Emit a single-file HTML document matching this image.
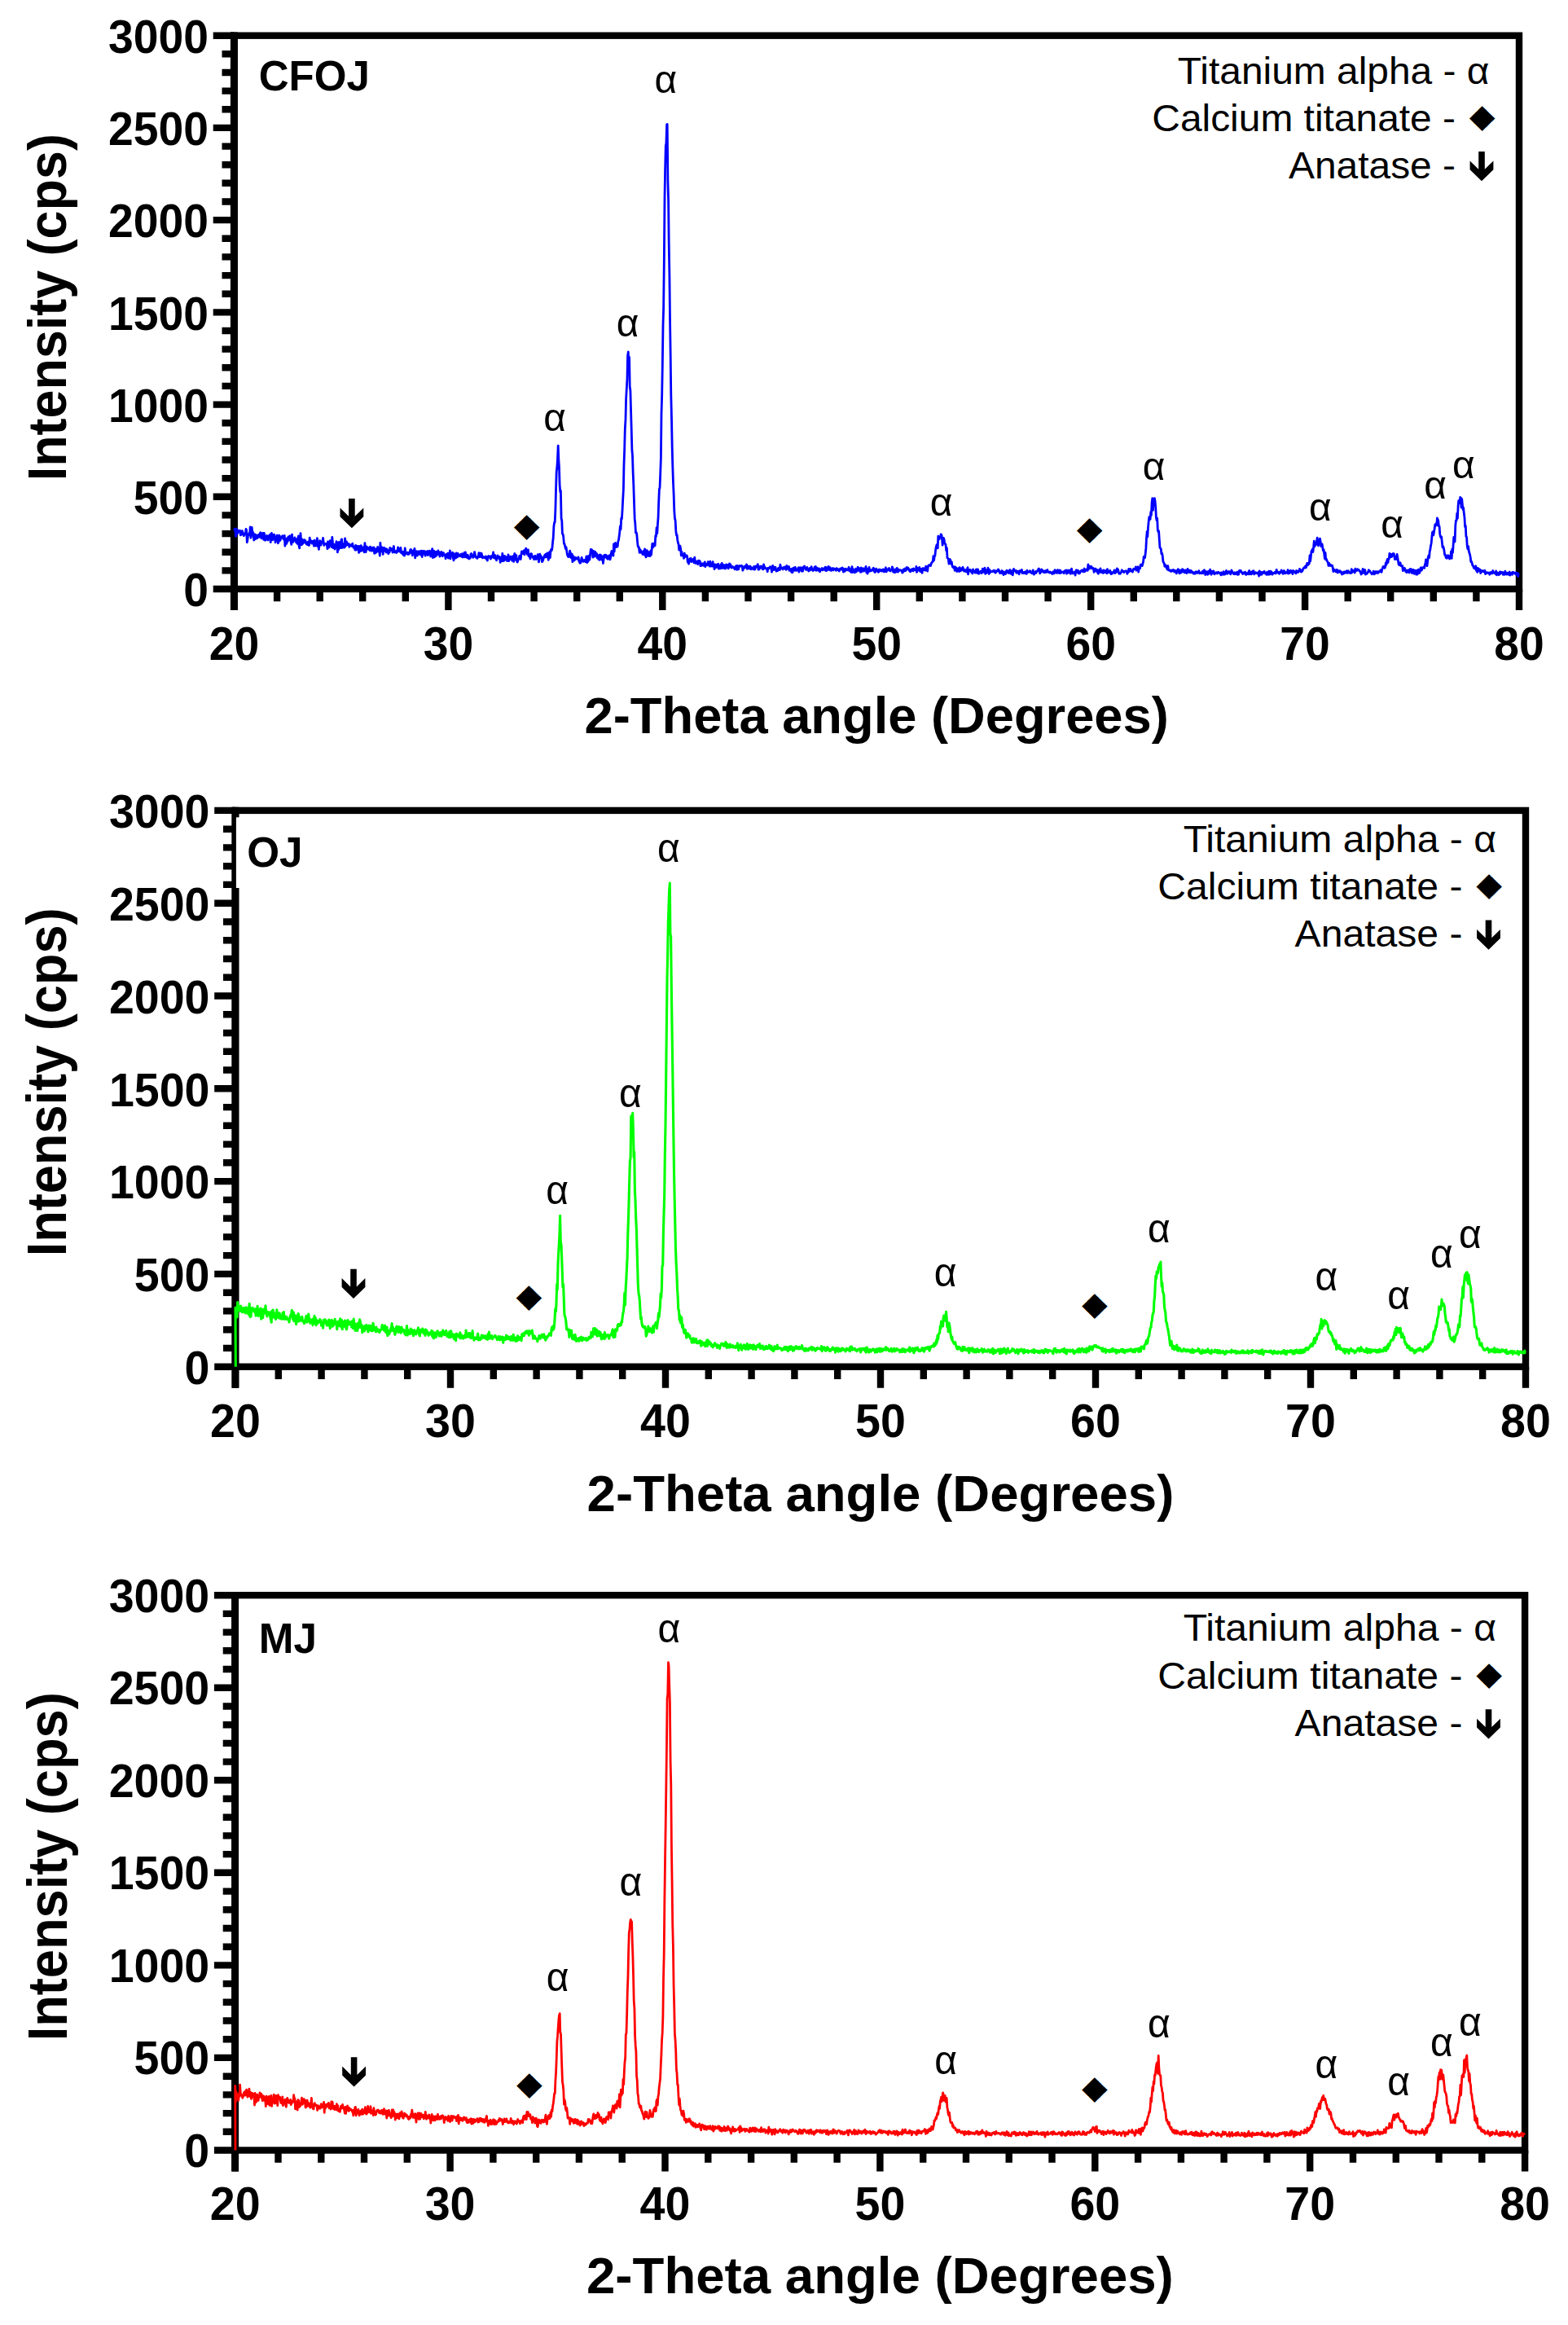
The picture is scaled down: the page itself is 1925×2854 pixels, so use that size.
<!DOCTYPE html>
<html lang="en"><head><meta charset="utf-8"><title>XRD patterns</title>
<style>html,body{margin:0;padding:0;background:#fff}svg{display:block}text{font-family:"Liberation Sans", Arial, Helvetica, sans-serif;fill:#000}.tk,.ti,.ty,.nm{font-weight:700}.al{text-anchor:middle}.dm{font-family:"DejaVu Sans",sans-serif}</style></head><body>
<svg width="1925" height="2854" viewBox="0 0 1925 2854">
<rect width="1925" height="2854" fill="#fff"/>
<g>
<path d="M261.7,723 H287.5 M272.5,700.4 H287.5 M272.5,677.7 H287.5 M272.5,655.1 H287.5 M272.5,632.4 H287.5 M261.7,609.8 H287.5 M272.5,587.1 H287.5 M272.5,564.5 H287.5 M272.5,541.9 H287.5 M272.5,519.2 H287.5 M261.7,496.6 H287.5 M272.5,473.9 H287.5 M272.5,451.3 H287.5 M272.5,428.6 H287.5 M272.5,406 H287.5 M261.7,383.4 H287.5 M272.5,360.7 H287.5 M272.5,338.1 H287.5 M272.5,315.4 H287.5 M272.5,292.8 H287.5 M261.7,270.1 H287.5 M272.5,247.5 H287.5 M272.5,224.8 H287.5 M272.5,202.2 H287.5 M272.5,179.6 H287.5 M261.7,156.9 H287.5 M272.5,134.3 H287.5 M272.5,111.6 H287.5 M272.5,89 H287.5 M272.5,66.3 H287.5 M261.7,43.7 H287.5 M287.5,723 V749 M340.1,723 V738.2 M392.7,723 V738.2 M445.2,723 V738.2 M497.8,723 V738.2 M550.4,723 V749 M603,723 V738.2 M655.6,723 V738.2 M708.2,723 V738.2 M760.8,723 V738.2 M813.3,723 V749 M865.9,723 V738.2 M918.5,723 V738.2 M971.1,723 V738.2 M1023.7,723 V738.2 M1076.2,723 V749 M1128.8,723 V738.2 M1181.4,723 V738.2 M1234,723 V738.2 M1286.6,723 V738.2 M1339.2,723 V749 M1391.8,723 V738.2 M1444.3,723 V738.2 M1496.9,723 V738.2 M1549.5,723 V738.2 M1602.1,723 V749 M1654.7,723 V738.2 M1707.2,723 V738.2 M1759.8,723 V738.2 M1812.4,723 V738.2 M1865,723 V749" stroke="#000" stroke-width="8.4" fill="none"/>
<rect x="287.5" y="43.7" width="1577.5" height="679.3" fill="none" stroke="#000" stroke-width="8.4"/>
<path d="M287.4,39.5 V749" stroke="#000" stroke-width="9" fill="none"/>
<polyline points="287.5,651 288.2,649.1 288.8,651.3 289.5,658.4 290.1,649.1 290.8,651.1 291.4,655.4 292.1,650.8 292.8,651.8 293.4,652.2 294.1,653.4 294.7,651.4 295.4,656.9 296,654.6 296.7,656 297.4,651.6 298,654 298.7,655.5 299.3,657.7 300,655.6 300.6,654.5 301.3,655.8 302,649.4 302.6,650.7 303.3,665.8 303.9,662.9 304.6,655.9 305.2,657 305.9,654.5 306.6,654.6 307.2,646.8 307.9,660.3 308.5,657.3 309.2,647.4 309.8,653.3 310.5,653.3 311.2,658.3 311.8,663 312.5,655.7 313.1,656 313.8,661.6 314.4,659.4 315.1,657 315.8,660.7 316.4,657.3 317.1,656.6 317.7,657 318.4,659.3 319,654.9 319.7,653.8 320.4,656.2 321,660.9 321.7,654.7 322.3,659.8 323,654.4 323.7,662.3 324.3,654.4 325,658.2 325.6,663.3 326.3,659.6 326.9,658.2 327.6,657.5 328.3,662.5 328.9,663.1 329.6,658 330.2,660.8 330.9,658.1 331.5,656.1 332.2,665.7 332.9,658.3 333.5,654.5 334.2,660.6 334.8,662.7 335.5,656.7 336.1,658.7 336.8,656.3 337.5,661.3 338.1,665.8 338.8,660.5 339.4,661.9 340.1,657.2 340.7,659.6 341.4,666.8 342.1,665.2 342.7,657.2 343.4,658.1 344,663.3 344.7,660.9 345.3,659.3 346,659.3 346.7,657.8 347.3,660.2 348,661.7 348.6,662.4 349.3,657.4 349.9,670.2 350.6,662.2 351.3,661.6 351.9,667.3 352.6,660.7 353.2,664.5 353.9,658.8 354.5,662.7 355.2,659.7 355.9,657.7 356.5,661 357.2,665.8 357.8,668.3 358.5,656.1 359.1,663.2 359.8,665.4 360.5,662.4 361.1,663.7 361.8,659.9 362.4,663.1 363.1,663.2 363.7,666 364.4,661.7 365.1,667.4 365.7,661.1 366.4,658 367,669.4 367.7,673 368.3,661.6 369,654.6 369.7,667.8 370.3,668.8 371,662.1 371.6,667.4 372.3,666.3 372.9,665.8 373.6,662.6 374.3,666.1 374.9,663.7 375.6,665.5 376.2,668 376.9,666.1 377.5,668.5 378.2,665.1 378.9,669.3 379.5,669.3 380.2,660.1 380.8,665.6 381.5,665.7 382.1,663.8 382.8,667.2 383.5,666.6 384.1,664.3 384.8,664.9 385.4,670.2 386.1,663.1 386.8,668.3 387.4,670 388.1,669.5 388.7,667.8 389.4,660.6 390,670.7 390.7,666 391.4,674.3 392,666.7 392.7,663.6 393.3,667.7 394,669.2 394.6,666.2 395.3,664.6 396,664.8 396.6,660.3 397.3,666.6 397.9,669.5 398.6,667.9 399.2,667.8 399.9,667.2 400.6,667.8 401.2,667.2 401.9,673.7 402.5,665 403.2,670 403.8,672.1 404.5,665.9 405.2,663.6 405.8,666.5 406.5,667.8 407.1,671.6 407.8,659.4 408.4,665.5 409.1,672.5 409.8,671.3 410.4,668.4 411.1,674.1 411.7,668.2 412.4,670.5 413,664.7 413.7,665.7 414.4,677.9 415,668.9 415.7,674.6 416.3,665.3 417,668.5 417.6,667.2 418.3,672.7 419,662.7 419.6,661.9 420.3,672.4 420.9,667.3 421.6,670.7 422.2,668.2 422.9,672.2 423.6,660.9 424.2,670.6 424.9,667.9 425.5,664.9 426.2,668.8 426.8,667.4 427.5,668.7 428.2,667.4 428.8,671.4 429.5,669.2 430.1,668.9 430.8,669.8 431.4,668.8 432.1,670.4 432.8,667.2 433.4,671.2 434.1,670.8 434.7,672.8 435.4,672.6 436,675.2 436.7,669.4 437.4,675.1 438,673.9 438.7,670.3 439.3,670.3 440,673 440.6,678.4 441.3,670.5 442,671.1 442.6,676.7 443.3,669.6 443.9,674.5 444.6,675.9 445.2,672 445.9,673 446.6,671.8 447.2,677.8 447.9,666.7 448.5,674.6 449.2,677.7 449.9,670.8 450.5,674 451.2,671.9 451.8,674.1 452.5,673.3 453.1,672.4 453.8,675.6 454.5,671.1 455.1,674.9 455.8,676.2 456.4,673.2 457.1,672.1 457.7,674.3 458.4,676.4 459.1,671.8 459.7,679.4 460.4,677.1 461,673.8 461.7,678.3 462.3,674 463,674.3 463.7,671.3 464.3,677.1 465,676.3 465.6,673.3 466.3,682.1 466.9,666.3 467.6,676.7 468.3,676.9 468.9,672 469.6,674.8 470.2,680.3 470.9,672.9 471.5,672.2 472.2,676.4 472.9,675.9 473.5,673.6 474.2,678 474.8,673.8 475.5,674.6 476.1,677.4 476.8,679.7 477.5,676.1 478.1,678.2 478.8,672.5 479.4,675.2 480.1,673.3 480.7,675.3 481.4,675 482.1,678.2 482.7,673.9 483.4,670.5 484,677 484.7,677.9 485.3,676.6 486,677.7 486.7,678.4 487.3,675.9 488,677.2 488.6,672 489.3,676.5 489.9,675.5 490.6,673.7 491.3,677.5 491.9,672.4 492.6,678.7 493.2,679.2 493.9,678 494.5,677.3 495.2,681.2 495.9,677.1 496.5,682.1 497.2,673 497.8,677.4 498.5,679.2 499.1,680 499.8,678.5 500.5,678.1 501.1,680.6 501.8,680.2 502.4,678.1 503.1,679.2 503.7,674.9 504.4,674.4 505.1,677.7 505.7,676.4 506.4,681.8 507,676.1 507.7,678.1 508.3,676.6 509,673.4 509.7,684.9 510.3,677.4 511,681.5 511.6,676.6 512.3,682.2 513,679.9 513.6,677.9 514.3,676.7 514.9,678.3 515.6,680.9 516.2,680.3 516.9,676.2 517.6,678.8 518.2,683.7 518.9,676.4 519.5,677.7 520.2,676.4 520.8,680 521.5,676.7 522.2,682.2 522.8,677.5 523.5,680.6 524.1,677.3 524.8,676.4 525.4,681.5 526.1,679.6 526.8,679.4 527.4,676.1 528.1,677.5 528.7,683.1 529.4,678.4 530,677.6 530.7,673.7 531.4,684.6 532,681.4 532.7,676.1 533.3,683.8 534,683.4 534.6,678.6 535.3,677.2 536,682 536.6,678.7 537.3,679.9 537.9,676 538.6,680.4 539.2,677.6 539.9,683 540.6,681 541.2,680.8 541.9,677.4 542.5,679 543.2,682.8 543.8,678.8 544.5,678.6 545.2,681.1 545.8,681.6 546.5,681.5 547.1,685.7 547.8,680.5 548.4,680.4 549.1,683.5 549.8,679.1 550.4,685 551.1,682.8 551.7,682.6 552.4,675.8 553,685.8 553.7,679.9 554.4,678.9 555,680.5 555.7,678.3 556.3,684.3 557,687.9 557.6,679.6 558.3,685 559,682.7 559.6,685 560.3,679 560.9,679.5 561.6,683.9 562.2,679.5 562.9,681.7 563.6,682.4 564.2,682 564.9,682.7 565.5,680.5 566.2,681.4 566.8,683.2 567.5,679.6 568.2,684 568.8,681.6 569.5,681.3 570.1,678.5 570.8,683.9 571.4,677.9 572.1,682.1 572.8,683.2 573.4,684.5 574.1,681.2 574.7,682.7 575.4,685.8 576.1,685.9 576.7,684.4 577.4,684.8 578,680.1 578.7,679.4 579.3,680.8 580,682.2 580.7,684.3 581.3,683 582,680.9 582.6,677.6 583.3,680.9 583.9,684.1 584.6,683.3 585.3,684.7 585.9,685.5 586.6,684 587.2,683 587.9,678.7 588.5,683.5 589.2,680.1 589.9,679 590.5,683.5 591.2,679.5 591.8,681.9 592.5,684.9 593.1,683.2 593.8,683.9 594.5,684.6 595.1,684.5 595.8,683.6 596.4,682.9 597.1,686.4 597.7,684.2 598.4,688.1 599.1,683.5 599.7,682.6 600.4,683.8 601,683.6 601.7,682.8 602.3,686.1 603,685 603.7,683.1 604.3,681.9 605,683.5 605.6,677.9 606.3,684.8 606.9,682 607.6,681.4 608.3,685 608.9,686.8 609.6,687.8 610.2,684.3 610.9,681.9 611.5,684.1 612.2,684.4 612.9,685.8 613.5,683.5 614.2,690.4 614.8,684.4 615.5,684.9 616.1,688.5 616.8,679.5 617.5,688.6 618.1,687.8 618.8,688.2 619.4,682.3 620.1,687.4 620.7,683.5 621.4,683.7 622.1,684.6 622.7,688.6 623.4,686.8 624,681 624.7,688.6 625.3,687.4 626,685.7 626.7,683.3 627.3,684.7 628,683.5 628.6,688 629.3,682.9 629.9,683.9 630.6,689.4 631.3,681.4 631.9,679.5 632.6,687.2 633.2,685.1 633.9,681.6 634.5,688.9 635.2,690.1 635.9,688.2 636.5,686.1 637.2,685.9 637.8,682.5 638.5,683 639.2,686.6 639.8,681.2 640.5,676.9 641.1,678 641.8,677.7 642.4,679.6 643.1,675.9 643.8,680.8 644.4,675.1 645.1,677.1 645.7,673.2 646.4,675.3 647,680.4 647.7,677.3 648.4,674.9 649,682.6 649.7,681.8 650.3,683.2 651,685.9 651.6,679.9 652.3,679.6 653,681.5 653.6,683.4 654.3,684.5 654.9,684 655.6,686.7 656.2,682.7 656.9,682.4 657.6,682.7 658.2,686.5 658.9,685 659.5,685.6 660.2,680.6 660.8,684.6 661.5,689.9 662.2,684 662.8,680.1 663.5,683.1 664.1,682.4 664.8,684.5 665.4,689.5 666.1,689 666.8,687.3 667.4,684.2 668.1,682.8 668.7,681.5 669.4,684 670,680.1 670.7,683 671.4,683.7 672,678.9 672.7,683.2 673.3,687.3 674,682.1 674.6,677.7 675.3,684.6 676,676.3 676.6,674.4 677.3,675.6 677.9,672.9 678.6,665.3 679.2,660.5 679.9,646.1 680.6,641.3 681.2,641.1 681.9,625.4 682.5,602 683.2,578.9 683.8,574.3 684.5,563.6 685.2,547.1 685.8,563.1 686.5,574.2 687.1,595 687.8,603.8 688.4,602.2 689.1,636.1 689.8,639.4 690.4,655.1 691.1,655.7 691.7,658.7 692.4,667.5 693,667.7 693.7,670.6 694.4,673.7 695,671.6 695.7,675.9 696.3,680.2 697,682.2 697.6,683.5 698.3,680.5 699,683.3 699.6,676.1 700.3,678.6 700.9,684.4 701.6,685.1 702.3,680.2 702.9,689.7 703.6,686.3 704.2,683 704.9,687.9 705.5,687 706.2,686.8 706.9,684.5 707.5,685.9 708.2,685.4 708.8,685 709.5,686.5 710.1,683.9 710.8,688.5 711.5,690.3 712.1,691.2 712.8,690.9 713.4,688.2 714.1,684.4 714.7,686.5 715.4,688.3 716.1,689.4 716.7,688 717.4,687.5 718,687.7 718.7,689.6 719.3,686.9 720,682.8 720.7,690.5 721.3,684.9 722,689.3 722.6,682.5 723.3,684.2 723.9,687.1 724.6,680.2 725.3,674.5 725.9,678.7 726.6,675 727.2,678.2 727.9,684.2 728.5,676.5 729.2,679.5 729.9,683.1 730.5,677.2 731.2,679.4 731.8,682.5 732.5,679.4 733.1,684.8 733.8,681.4 734.5,686.1 735.1,682.7 735.8,687.3 736.4,680.9 737.1,684.3 737.7,681.4 738.4,687.2 739.1,686.2 739.7,682.8 740.4,691.5 741,687.3 741.7,681.7 742.3,682.9 743,681.2 743.7,684.2 744.3,681.5 745,684.5 745.6,685.8 746.3,686.3 746.9,682.6 747.6,682.1 748.3,681.7 748.9,686.8 749.6,684.5 750.2,679.6 750.9,676.5 751.5,678.3 752.2,678.5 752.9,682.2 753.5,667.9 754.2,676.9 754.8,667.1 755.5,666.5 756.1,669.7 756.8,671.5 757.5,667.9 758.1,671 758.8,664.4 759.4,663.3 760.1,658.6 760.7,653.6 761.4,645.9 762.1,649.7 762.7,636.1 763.4,636.9 764,627.3 764.7,613.3 765.4,600.9 766,570.5 766.7,551.1 767.3,526.9 768,514.9 768.6,490.2 769.3,477 770,464.8 770.6,436.8 771.3,432 771.9,446.4 772.6,438.4 773.2,474.8 773.9,479.2 774.6,504.7 775.2,526.3 775.9,552.7 776.5,558.9 777.2,581.3 777.8,594.9 778.5,616.5 779.2,636.9 779.8,642.1 780.5,654 781.1,653.5 781.8,656 782.4,663.6 783.1,670.1 783.8,671.7 784.4,671.7 785.1,678.4 785.7,674.5 786.4,675.3 787,678.3 787.7,678.5 788.4,677.2 789,680.5 789.7,680.8 790.3,676.3 791,678.1 791.6,673.9 792.3,681.7 793,683.9 793.6,675.9 794.3,675.7 794.9,680.4 795.6,682.3 796.2,677.7 796.9,682.3 797.6,677.6 798.2,682.6 798.9,676 799.5,681.1 800.2,674.2 800.8,667.5 801.5,672.1 802.2,667.2 802.8,670.5 803.5,669.6 804.1,669.7 804.8,657.6 805.4,658.6 806.1,647.6 806.8,654.6 807.4,644.1 808.1,634.5 808.7,616.6 809.4,600.4 810,599 810.7,582 811.4,562 812,507.8 812.7,484.3 813.3,449.5 814,399.3 814.6,379.3 815.3,322.6 816,243.5 816.6,208 817.3,178.9 817.9,176.1 818.6,152.9 819.2,152.4 819.9,222 820.6,246.4 821.2,298.3 821.9,338 822.5,390.1 823.2,437 823.8,484.8 824.5,513.4 825.2,549.3 825.8,571.9 826.5,592.9 827.1,606 827.8,627.3 828.5,636.7 829.1,638.5 829.8,651.4 830.4,656.9 831.1,656.7 831.7,662.6 832.4,666.2 833.1,668.2 833.7,675.2 834.4,671.4 835,670.3 835.7,674.1 836.3,681.8 837,677.5 837.7,682 838.3,681 839,680.8 839.6,685.3 840.3,679.1 840.9,683.6 841.6,682 842.3,683 842.9,681.7 843.6,682.7 844.2,689.8 844.9,686.5 845.5,692.2 846.2,688.4 846.9,686 847.5,685.9 848.2,685.3 848.8,689.6 849.5,688.2 850.1,689 850.8,686.6 851.5,686.1 852.1,690.8 852.8,684.2 853.4,690.4 854.1,691.4 854.7,689.4 855.4,689.2 856.1,689.9 856.7,692.7 857.4,688.2 858,691.4 858.7,688.4 859.3,688.8 860,694.7 860.7,694.2 861.3,694.4 862,691.8 862.6,692.3 863.3,692 863.9,694.4 864.6,691.8 865.3,689.9 865.9,695.7 866.6,693.4 867.2,692.6 867.9,693.5 868.5,693.7 869.2,689.7 869.9,690.8 870.5,691.8 871.2,695.2 871.8,689.1 872.5,693 873.1,695 873.8,694.6 874.5,695 875.1,689.7 875.8,693.7 876.4,694 877.1,698.6 877.7,692.8 878.4,696.4 879.1,696.6 879.7,693.2 880.4,696.2 881,692.8 881.7,692.3 882.3,698.2 883,694.9 883.7,697.9 884.3,694.9 885,693 885.6,697.6 886.3,691.3 886.9,695.6 887.6,697.3 888.3,695.3 888.9,693.5 889.6,697.8 890.2,695.2 890.9,697.9 891.6,692.9 892.2,695 892.9,696.2 893.5,693.3 894.2,697.9 894.8,696.2 895.5,691.9 896.2,695.8 896.8,692.9 897.5,695.2 898.1,697 898.8,696.1 899.4,695.5 900.1,696.5 900.8,697.3 901.4,697.3 902.1,698.7 902.7,695.6 903.4,695.1 904,694.5 904.7,699.4 905.4,694.4 906,696 906.7,698.8 907.3,695.9 908,694.5 908.6,695.1 909.3,694.7 910,694.4 910.6,694.5 911.3,696.3 911.9,700.2 912.6,697.7 913.2,695.6 913.9,697.2 914.6,695 915.2,694.9 915.9,696.3 916.5,692.9 917.2,698.3 917.8,694.7 918.5,697.4 919.2,698 919.8,695.4 920.5,697.7 921.1,695 921.8,698.8 922.4,696.6 923.1,698.2 923.8,697.1 924.4,697.4 925.1,698.8 925.7,695.5 926.4,699.1 927,698.6 927.7,695.1 928.4,695 929,695.6 929.7,696.2 930.3,692.6 931,699.2 931.6,698.3 932.3,698.8 933,695.3 933.6,696.5 934.3,695 934.9,695.2 935.6,697.5 936.2,698.6 936.9,698.9 937.6,693 938.2,695.4 938.9,696.1 939.5,697.8 940.2,697.6 940.8,697.9 941.5,697.8 942.2,701.7 942.8,697.4 943.5,698 944.1,696.8 944.8,696.9 945.4,695.8 946.1,697.4 946.8,695.9 947.4,702.1 948.1,699.4 948.7,694.3 949.4,699.7 950,698 950.7,696.2 951.4,699.1 952,696.2 952.7,700.2 953.3,701.1 954,700 954.7,700.6 955.3,697.7 956,698.2 956.6,697.1 957.3,699.6 957.9,693.1 958.6,697.9 959.3,697.8 959.9,696.9 960.6,698.2 961.2,698.9 961.9,697.6 962.5,696.1 963.2,696.6 963.9,696.1 964.5,698.9 965.2,699.3 965.8,694.3 966.5,698.3 967.1,697.1 967.8,696.6 968.5,695.4 969.1,700.4 969.8,698.8 970.4,698.8 971.1,698.5 971.7,702.4 972.4,698.2 973.1,702.7 973.7,697.5 974.4,697.1 975,697 975.7,700.3 976.3,696.4 977,699.7 977.7,700.4 978.3,699.9 979,699.7 979.6,697.9 980.3,696.7 980.9,702 981.6,699.2 982.3,696.6 982.9,697.9 983.6,697.4 984.2,701 984.9,696.6 985.5,701.1 986.2,698 986.9,695.9 987.5,695 988.2,697.5 988.8,696.8 989.5,699.5 990.1,699.3 990.8,696.4 991.5,698.4 992.1,698.7 992.8,701 993.4,698.2 994.1,697.4 994.7,699.9 995.4,699.4 996.1,695.7 996.7,698.2 997.4,699.1 998,700.6 998.7,699.7 999.3,699 1000,696.2 1000.7,699.7 1001.3,695.5 1002,700.3 1002.6,699.3 1003.3,697.2 1003.9,699.1 1004.6,700.2 1005.3,699 1005.9,697.9 1006.6,701.8 1007.2,699.2 1007.9,699 1008.5,699.5 1009.2,697.5 1009.9,699.8 1010.5,699.5 1011.2,698.8 1011.8,697.6 1012.5,699.2 1013.1,696.2 1013.8,700.5 1014.5,696.7 1015.1,700.4 1015.8,699.2 1016.4,698.3 1017.1,695.4 1017.8,697.4 1018.4,699.7 1019.1,696.7 1019.7,699.4 1020.4,700.4 1021,698.2 1021.7,698.9 1022.4,697.4 1023,700 1023.7,698.4 1024.3,698 1025,698.6 1025.6,699.2 1026.3,700.3 1027,697.6 1027.6,698.9 1028.3,698.3 1028.9,699.8 1029.6,699.1 1030.2,701 1030.9,699 1031.6,697.9 1032.2,699.1 1032.9,697.7 1033.5,698.7 1034.2,696.9 1034.8,699.6 1035.5,702.1 1036.2,698.5 1036.8,699.6 1037.5,701 1038.1,698.2 1038.8,698.9 1039.4,698.6 1040.1,699.9 1040.8,699 1041.4,698.9 1042.1,696.3 1042.7,700.6 1043.4,699.4 1044,698.8 1044.7,702.4 1045.4,702.2 1046,695.7 1046.7,702.5 1047.3,698.5 1048,700.9 1048.6,700.8 1049.3,702.9 1050,701 1050.6,698.2 1051.3,701.9 1051.9,698.5 1052.6,699 1053.2,696.1 1053.9,700.4 1054.6,697.4 1055.2,698.1 1055.9,700.1 1056.5,702.4 1057.2,697 1057.8,701.9 1058.5,700.4 1059.2,698.1 1059.8,697.8 1060.5,701.1 1061.1,699.7 1061.8,700.1 1062.4,697.7 1063.1,695.4 1063.8,702.8 1064.4,698.2 1065.1,704.1 1065.7,699.7 1066.4,701.6 1067,696.4 1067.7,699.5 1068.4,701 1069,700.6 1069.7,700.7 1070.3,699.5 1071,700.1 1071.6,698.7 1072.3,697.2 1073,698.6 1073.6,701.9 1074.3,702.6 1074.9,701.1 1075.6,698.1 1076.2,700.4 1076.9,701 1077.6,699.6 1078.2,702.3 1078.9,701.8 1079.5,699 1080.2,700.4 1080.9,700.7 1081.5,699.4 1082.2,700.9 1082.8,701.1 1083.5,700.7 1084.1,698.9 1084.8,699.8 1085.5,702 1086.1,700.5 1086.8,698.9 1087.4,696.8 1088.1,701.9 1088.7,699.4 1089.4,700.4 1090.1,698.6 1090.7,699.2 1091.4,697.5 1092,699.1 1092.7,700.9 1093.3,700.9 1094,699.3 1094.7,699.4 1095.3,696 1096,697.2 1096.6,702 1097.3,699.5 1097.9,702.3 1098.6,702.8 1099.3,698.8 1099.9,699.1 1100.6,701.8 1101.2,697.3 1101.9,701.7 1102.5,702 1103.2,699 1103.9,699.7 1104.5,700.3 1105.2,700.2 1105.8,699.7 1106.5,700.3 1107.1,700.3 1107.8,703.2 1108.5,702.3 1109.1,699 1109.8,701.2 1110.4,699.1 1111.1,698 1111.7,700.6 1112.4,699.6 1113.1,696.5 1113.7,698.9 1114.4,696.9 1115,697.4 1115.7,698.7 1116.3,700.2 1117,701.4 1117.7,701.8 1118.3,699.1 1119,699.1 1119.6,700.2 1120.3,698.5 1120.9,700.9 1121.6,698 1122.3,699.8 1122.9,699.9 1123.6,699.8 1124.2,699.9 1124.9,695.5 1125.5,702.4 1126.2,699.4 1126.9,697.5 1127.5,698.4 1128.2,700.1 1128.8,696.5 1129.5,701.3 1130.1,701.6 1130.8,698.4 1131.5,701.8 1132.1,703.3 1132.8,697.6 1133.4,697.7 1134.1,697.6 1134.7,699.6 1135.4,698.3 1136.1,700.2 1136.7,695.2 1137.4,696.6 1138,696.4 1138.7,701 1139.3,695.5 1140,693.8 1140.7,693.7 1141.3,693.8 1142,694.6 1142.6,694.4 1143.3,691.4 1144,690.6 1144.6,689.5 1145.3,689.3 1145.9,682.7 1146.6,687.9 1147.2,682.9 1147.9,682.2 1148.6,675.2 1149.2,671.4 1149.9,669.2 1150.5,668.1 1151.2,672.9 1151.8,658.1 1152.5,661.4 1153.2,661.7 1153.8,659.5 1154.5,659.8 1155.1,656 1155.8,656.3 1156.4,659.4 1157.1,669.1 1157.8,660.4 1158.4,660.3 1159.1,662.3 1159.7,667.2 1160.4,667.6 1161,668.4 1161.7,675.8 1162.4,672.5 1163,685 1163.7,685.2 1164.3,686.3 1165,692 1165.6,690.1 1166.3,686.5 1167,688.1 1167.6,692 1168.3,689.8 1168.9,693.9 1169.6,696.2 1170.2,695.5 1170.9,696.9 1171.6,695.8 1172.2,700.3 1172.9,696.2 1173.5,699.1 1174.2,697.1 1174.8,701.5 1175.5,699.7 1176.2,699 1176.8,697.8 1177.5,701.5 1178.1,696.7 1178.8,698.9 1179.4,700.7 1180.1,697.8 1180.8,699.8 1181.4,698.1 1182.1,696.2 1182.7,698.9 1183.4,701.1 1184,701 1184.7,699.4 1185.4,699.9 1186,701.8 1186.7,701.6 1187.3,699.4 1188,696.7 1188.6,704.9 1189.3,699.4 1190,701 1190.6,699.4 1191.3,699.3 1191.9,700.7 1192.6,702.4 1193.2,703.1 1193.9,703.9 1194.6,698.9 1195.2,701.2 1195.9,701.8 1196.5,701.4 1197.2,703.1 1197.8,700.5 1198.5,698.9 1199.2,699.2 1199.8,703.6 1200.5,698.9 1201.1,702.3 1201.8,704.2 1202.4,703.1 1203.1,702.7 1203.8,701.2 1204.4,702.8 1205.1,703.6 1205.7,701.6 1206.4,698.1 1207.1,702.4 1207.7,700.5 1208.4,701.1 1209,697.1 1209.7,704.3 1210.3,699.6 1211,703.4 1211.7,702.3 1212.3,701.5 1213,697.2 1213.6,702.6 1214.3,704.4 1214.9,699.3 1215.6,702.7 1216.3,701.8 1216.9,701.5 1217.6,701.3 1218.2,701.7 1218.9,701 1219.5,700.9 1220.2,700.1 1220.9,702.2 1221.5,702.7 1222.2,703.2 1222.8,700.6 1223.5,701.6 1224.1,700.7 1224.8,700.7 1225.5,698.9 1226.1,701.2 1226.8,700.4 1227.4,703.5 1228.1,703.3 1228.7,702.1 1229.4,703.5 1230.1,700.5 1230.7,703.7 1231.4,701.5 1232,705.5 1232.7,703.4 1233.3,702.2 1234,702.1 1234.7,704.5 1235.3,701.5 1236,700.2 1236.6,700.7 1237.3,702.7 1237.9,702.6 1238.6,703.6 1239.3,700.7 1239.9,699.5 1240.6,702.6 1241.2,704.4 1241.9,701.5 1242.5,700.7 1243.2,705.9 1243.9,701.6 1244.5,698.4 1245.2,700.5 1245.8,700.9 1246.5,701.2 1247.1,700.2 1247.8,703.3 1248.5,703.2 1249.1,701.2 1249.8,702.9 1250.4,701.4 1251.1,704.8 1251.7,700.7 1252.4,700.5 1253.1,701.8 1253.7,701.6 1254.4,699.4 1255,703.6 1255.7,703.3 1256.3,703.6 1257,702.6 1257.7,703.5 1258.3,701.9 1259,702.9 1259.6,704.2 1260.3,704.4 1260.9,700.1 1261.6,702.1 1262.3,702.3 1262.9,701.9 1263.6,702.1 1264.2,700.8 1264.9,701.1 1265.5,702.9 1266.2,703.3 1266.9,703.7 1267.5,703.9 1268.2,699.8 1268.8,703.4 1269.5,705.1 1270.2,703.3 1270.8,703.2 1271.5,701.5 1272.1,703.4 1272.8,701.2 1273.4,701.4 1274.1,700.1 1274.8,698.7 1275.4,698 1276.1,700 1276.7,703.9 1277.4,702.7 1278,701.7 1278.7,698.9 1279.4,701 1280,700.2 1280.7,702.4 1281.3,701.2 1282,701 1282.6,702.8 1283.3,700.9 1284,700.5 1284.6,702.4 1285.3,700.5 1285.9,699.6 1286.6,702 1287.2,702.1 1287.9,702.6 1288.6,703.1 1289.2,701.9 1289.9,702.8 1290.5,702.6 1291.2,703.3 1291.8,704.5 1292.5,703.6 1293.2,701.6 1293.8,704 1294.5,703.2 1295.1,699.6 1295.8,700.4 1296.4,703.2 1297.1,701.2 1297.8,703.2 1298.4,699.7 1299.1,703.1 1299.7,702 1300.4,700 1301,703.5 1301.7,700.2 1302.4,703.4 1303,701.8 1303.7,702.6 1304.3,702.3 1305,701.9 1305.6,702.3 1306.3,703.7 1307,700.8 1307.6,701.1 1308.3,700.2 1308.9,700 1309.6,704.2 1310.2,700.2 1310.9,700.2 1311.6,703 1312.2,700.5 1312.9,699.9 1313.5,703 1314.2,704.3 1314.8,702.7 1315.5,698.1 1316.2,701.7 1316.8,704 1317.5,702.5 1318.1,703.6 1318.8,702.7 1319.4,701.9 1320.1,706 1320.8,701.4 1321.4,699.8 1322.1,702.2 1322.7,702.5 1323.4,700.2 1324,703.8 1324.7,703.7 1325.4,703.9 1326,701.8 1326.7,700.9 1327.3,701.5 1328,700.3 1328.6,699.7 1329.3,700 1330,701.9 1330.6,700.8 1331.3,698 1331.9,701.5 1332.6,699.9 1333.3,699.8 1333.9,699 1334.6,700.2 1335.2,700.3 1335.9,692.9 1336.5,695.5 1337.2,698.2 1337.9,696.8 1338.5,695.3 1339.2,697.1 1339.8,695.4 1340.5,697.8 1341.1,697.6 1341.8,697.3 1342.5,698.4 1343.1,702.3 1343.8,698.2 1344.4,698.2 1345.1,698.2 1345.7,701.1 1346.4,699.2 1347.1,699.7 1347.7,703.3 1348.4,704.2 1349,700 1349.7,702.5 1350.3,699.6 1351,697.9 1351.7,702.4 1352.3,702.6 1353,701.6 1353.6,700.6 1354.3,703.5 1354.9,699.9 1355.6,700.3 1356.3,700.8 1356.9,702.7 1357.6,700.5 1358.2,700.6 1358.9,703.8 1359.5,698.7 1360.2,702.4 1360.9,701.4 1361.5,702.8 1362.2,701.4 1362.8,700.2 1363.5,703.2 1364.1,704.6 1364.8,702.7 1365.5,704 1366.1,703.1 1366.8,702.2 1367.4,702 1368.1,699.9 1368.7,703.5 1369.4,701.4 1370.1,702.7 1370.7,699.8 1371.4,697.9 1372,701.4 1372.7,699.2 1373.3,702.6 1374,704.3 1374.7,703.8 1375.3,704.2 1376,703.2 1376.6,702.1 1377.3,699.8 1377.9,700.5 1378.6,700.9 1379.3,702.2 1379.9,702.7 1380.6,701.4 1381.2,701.2 1381.9,701 1382.5,700.7 1383.2,701.5 1383.9,704.3 1384.5,702.9 1385.2,702.4 1385.8,698.3 1386.5,701.6 1387.1,699.8 1387.8,698.4 1388.5,700.1 1389.1,701.2 1389.8,700.9 1390.4,702 1391.1,699.7 1391.7,698.2 1392.4,699 1393.1,698.4 1393.7,698.3 1394.4,695.9 1395,700.2 1395.7,698.5 1396.4,697.2 1397,695.8 1397.7,702 1398.3,698.1 1399,696.8 1399.6,697.7 1400.3,693.1 1401,693.2 1401.6,693.2 1402.3,694.5 1402.9,692.1 1403.6,689.3 1404.2,683.3 1404.9,685 1405.6,684.5 1406.2,679.5 1406.9,672.9 1407.5,660.7 1408.2,652.4 1408.8,658.9 1409.5,647.6 1410.2,639.9 1410.8,634.6 1411.5,636.1 1412.1,637.5 1412.8,628.5 1413.4,632.4 1414.1,617 1414.8,611.6 1415.4,626.3 1416.1,615.5 1416.7,614.8 1417.4,611.7 1418,614.6 1418.7,622.2 1419.4,635.1 1420,638.5 1420.7,636.2 1421.3,650.3 1422,653 1422.6,651.8 1423.3,662.5 1424,672.4 1424.6,672.9 1425.3,673.8 1425.9,679.8 1426.6,679.2 1427.2,681.8 1427.9,689.1 1428.6,690.7 1429.2,691.5 1429.9,695.3 1430.5,693.3 1431.2,695.5 1431.8,694.5 1432.5,697.9 1433.2,699 1433.8,694.6 1434.5,699.9 1435.1,699.8 1435.8,700.3 1436.4,699.9 1437.1,701.2 1437.8,699.9 1438.4,701.2 1439.1,700.9 1439.7,699.8 1440.4,699.4 1441,699.9 1441.7,702 1442.4,700.2 1443,701.2 1443.7,701.3 1444.3,703.9 1445,700.2 1445.6,701.6 1446.3,698.7 1447,700.5 1447.6,703.3 1448.3,703.8 1448.9,699.9 1449.6,703.1 1450.2,700.7 1450.9,702.3 1451.6,698.6 1452.2,701.8 1452.9,699.7 1453.5,700 1454.2,702.8 1454.8,702.6 1455.5,699.9 1456.2,702.2 1456.8,703.6 1457.5,700.4 1458.1,698.4 1458.8,702.4 1459.5,700.2 1460.1,702.6 1460.8,700.3 1461.4,702.8 1462.1,700.4 1462.7,701.6 1463.4,702.8 1464.1,702.1 1464.7,703.3 1465.4,704.2 1466,704.2 1466.7,702.7 1467.3,704.2 1468,701.9 1468.7,701.8 1469.3,701.9 1470,703.4 1470.6,702.6 1471.3,702.7 1471.9,700.7 1472.6,703.9 1473.3,703.3 1473.9,703.1 1474.6,702.9 1475.2,703.9 1475.9,703.7 1476.5,701.2 1477.2,703.7 1477.9,701.4 1478.5,699.8 1479.2,700.9 1479.8,705.5 1480.5,701.7 1481.1,702.1 1481.8,702 1482.5,705.3 1483.1,701.7 1483.8,704.5 1484.4,701 1485.1,701.3 1485.7,699.1 1486.4,703.5 1487.1,705.2 1487.7,701.4 1488.4,701.6 1489,703.5 1489.7,700.9 1490.3,701.9 1491,704.9 1491.7,703.5 1492.3,703.7 1493,703.2 1493.6,702.7 1494.3,704 1494.9,703.3 1495.6,702.2 1496.3,703.1 1496.9,703.4 1497.6,703.5 1498.2,703.2 1498.9,705.9 1499.5,702.8 1500.2,704.6 1500.9,702.9 1501.5,705.3 1502.2,701.7 1502.8,702.7 1503.5,705.1 1504.1,702.7 1504.8,704.2 1505.5,700.4 1506.1,702.4 1506.8,704.3 1507.4,702.8 1508.1,703.2 1508.7,701.4 1509.4,702.6 1510.1,702.4 1510.7,704.8 1511.4,702 1512,700 1512.7,702.2 1513.3,703.2 1514,702.9 1514.7,704.6 1515.3,702.9 1516,704.8 1516.6,703.1 1517.3,703.7 1517.9,704.4 1518.6,702.3 1519.3,705.4 1519.9,703.2 1520.6,705.1 1521.2,700.5 1521.9,700.3 1522.6,701.9 1523.2,700.4 1523.9,702.3 1524.5,702.4 1525.2,703.8 1525.8,704.5 1526.5,703 1527.2,704 1527.8,703.8 1528.5,702.1 1529.1,703.4 1529.8,705.5 1530.4,703.5 1531.1,704.3 1531.8,703.6 1532.4,704.8 1533.1,701.4 1533.7,700.4 1534.4,704.8 1535,702.2 1535.7,702.3 1536.4,704.8 1537,703.1 1537.7,701.1 1538.3,702 1539,700.8 1539.6,704.9 1540.3,704.3 1541,702.8 1541.6,702.7 1542.3,703.2 1542.9,703.8 1543.6,703.8 1544.2,704.1 1544.9,702.5 1545.6,707.1 1546.2,700.8 1546.9,704 1547.5,705.3 1548.2,702.4 1548.8,705.3 1549.5,702.6 1550.2,703.8 1550.8,702.3 1551.5,702 1552.1,701.3 1552.8,703.9 1553.4,703.6 1554.1,703.2 1554.8,705.3 1555.4,702.3 1556.1,703 1556.7,705.2 1557.4,701.4 1558,701.1 1558.7,705.1 1559.4,702.3 1560,701.3 1560.7,701.9 1561.3,704.6 1562,705.2 1562.6,703.3 1563.3,703.9 1564,703.1 1564.6,703.3 1565.3,702.3 1565.9,703.9 1566.6,703.3 1567.2,699.3 1567.9,703.2 1568.6,702 1569.2,702.6 1569.9,702.7 1570.5,704.4 1571.2,702.2 1571.8,703.1 1572.5,701.8 1573.2,699.9 1573.8,702.7 1574.5,701.8 1575.1,704.4 1575.8,702.7 1576.4,700.5 1577.1,702.9 1577.8,703.8 1578.4,702.5 1579.1,703.1 1579.7,703.1 1580.4,703.3 1581,699.7 1581.7,704 1582.4,703.3 1583,703.5 1583.7,700.7 1584.3,702.9 1585,700.5 1585.7,702.2 1586.3,702.4 1587,704.6 1587.6,700.4 1588.3,701.4 1588.9,701.5 1589.6,702.3 1590.3,702.7 1590.9,703.9 1591.6,700.4 1592.2,701.3 1592.9,702.2 1593.5,702.5 1594.2,701.2 1594.9,701.3 1595.5,698.3 1596.2,699.5 1596.8,701.5 1597.5,702.1 1598.1,700.3 1598.8,701.1 1599.5,699 1600.1,697.9 1600.8,696.9 1601.4,696.7 1602.1,697.1 1602.7,694.8 1603.4,696.8 1604.1,694.3 1604.7,691.4 1605.4,691.3 1606,693.5 1606.7,692 1607.3,691.8 1608,681.9 1608.7,688.8 1609.3,683.5 1610,676.3 1610.6,676.5 1611.3,673.9 1611.9,677.5 1612.6,671.9 1613.3,664.1 1613.9,670.9 1614.6,667.9 1615.2,669 1615.9,666.8 1616.5,664.4 1617.2,660.1 1617.9,668 1618.5,669.8 1619.2,664.7 1619.8,664.6 1620.5,661.1 1621.1,664.6 1621.8,670.6 1622.5,667.9 1623.1,667.8 1623.8,672.2 1624.4,675.9 1625.1,674.7 1625.7,679.5 1626.4,685.6 1627.1,678.5 1627.7,687.2 1628.4,686.3 1629,687.8 1629.7,689.3 1630.3,690.5 1631,694.4 1631.7,691.3 1632.3,693.4 1633,694.4 1633.6,693.3 1634.3,694.2 1634.9,694.5 1635.6,694.3 1636.3,697.4 1636.9,701.5 1637.6,698.9 1638.2,699.6 1638.9,699.9 1639.5,701.3 1640.2,702 1640.9,699.5 1641.5,699.4 1642.2,703 1642.8,700.5 1643.5,701.7 1644.1,702.2 1644.8,700.6 1645.5,701.9 1646.1,702.7 1646.8,701.9 1647.4,705.1 1648.1,703 1648.8,702.8 1649.4,704.3 1650.1,701.9 1650.7,701.8 1651.4,703.2 1652,702.6 1652.7,701.3 1653.4,700.7 1654,703.5 1654.7,701.8 1655.3,700.7 1656,702.3 1656.6,703.4 1657.3,703.3 1658,702.6 1658.6,703.6 1659.3,698.7 1659.9,702.6 1660.6,700.9 1661.2,701.1 1661.9,700.2 1662.6,701.6 1663.2,703 1663.9,698.1 1664.5,700.8 1665.2,700.5 1665.8,700.4 1666.5,698.7 1667.2,699.7 1667.8,699.2 1668.5,699.9 1669.1,701.2 1669.8,701.2 1670.4,703 1671.1,705 1671.8,702.5 1672.4,703.9 1673.1,698.4 1673.7,700 1674.4,700.7 1675,703.4 1675.7,699.5 1676.4,705.2 1677,704.5 1677.7,703.8 1678.3,704.1 1679,702.5 1679.6,702.4 1680.3,699.8 1681,701.1 1681.6,700.8 1682.3,702 1682.9,702.8 1683.6,703.6 1684.2,704.8 1684.9,703.8 1685.6,703 1686.2,701.2 1686.9,704.9 1687.5,704.4 1688.2,701.9 1688.8,703.7 1689.5,701.5 1690.2,702.5 1690.8,702.9 1691.5,703.7 1692.1,701.5 1692.8,702.3 1693.4,701.9 1694.1,701.6 1694.8,699.9 1695.4,699.6 1696.1,702.3 1696.7,699.1 1697.4,697.5 1698,695.6 1698.7,695.3 1699.4,695.5 1700,697.3 1700.7,695.6 1701.3,691 1702,693.4 1702.6,688.4 1703.3,686.5 1704,690.7 1704.6,685.9 1705.3,686 1705.9,679.3 1706.6,681.2 1707.2,683.8 1707.9,680.5 1708.6,683.5 1709.2,680.9 1709.9,679.6 1710.5,679.8 1711.2,679.6 1711.9,683.5 1712.5,686.7 1713.2,683.5 1713.8,685.9 1714.5,686.4 1715.1,680.4 1715.8,684.2 1716.5,688.7 1717.1,692.8 1717.8,693.6 1718.4,691 1719.1,690.6 1719.7,694.5 1720.4,694.6 1721.1,695.2 1721.7,694.5 1722.4,700.7 1723,697.6 1723.7,697.7 1724.3,697.3 1725,698.7 1725.7,701.6 1726.3,701 1727,702.8 1727.6,700.2 1728.3,700.4 1728.9,700 1729.6,702.6 1730.3,702.9 1730.9,698.7 1731.6,700.9 1732.2,698.5 1732.9,700.6 1733.5,703.6 1734.2,700 1734.9,699.3 1735.5,702 1736.2,704.3 1736.8,700.1 1737.5,701.4 1738.1,700.6 1738.8,705.2 1739.5,700.2 1740.1,705 1740.8,702.1 1741.4,699.1 1742.1,703.4 1742.7,703.3 1743.4,700.8 1744.1,697 1744.7,696.7 1745.4,700.1 1746,696.9 1746.7,697.1 1747.3,697 1748,696.1 1748.7,697.3 1749.3,693.3 1750,691.5 1750.6,686.8 1751.3,688.7 1751.9,694.7 1752.6,689.9 1753.3,683.8 1753.9,681.9 1754.6,684.7 1755.2,676.8 1755.9,674.3 1756.5,670 1757.2,666.7 1757.9,659.2 1758.5,653.3 1759.2,652.7 1759.8,656.9 1760.5,652.8 1761.1,649.2 1761.8,644 1762.5,644 1763.1,642.6 1763.8,644.9 1764.4,636 1765.1,637.6 1765.7,638.8 1766.4,645.9 1767.1,646.1 1767.7,655.2 1768.4,658.7 1769,660 1769.7,659 1770.3,665.2 1771,671.9 1771.7,670.7 1772.3,672.6 1773,676.1 1773.6,680.9 1774.3,680.8 1775,683.9 1775.6,685 1776.3,685.4 1776.9,684 1777.6,681.7 1778.2,682.3 1778.9,684.2 1779.6,686 1780.2,684.6 1780.9,682.9 1781.5,676.9 1782.2,685.4 1782.8,674.1 1783.5,678.3 1784.2,668.1 1784.8,659.3 1785.5,663.5 1786.1,665 1786.8,645.1 1787.4,639.1 1788.1,638.8 1788.8,630.1 1789.4,636.3 1790.1,621.4 1790.7,614.6 1791.4,617.7 1792,617.6 1792.7,610.5 1793.4,611.1 1794,622.9 1794.7,612.3 1795.3,618.6 1796,625.3 1796.6,623.1 1797.3,629.8 1798,635.6 1798.6,646.6 1799.3,645.5 1799.9,658.8 1800.6,659.4 1801.2,669.8 1801.9,673.8 1802.6,670.5 1803.2,675.9 1803.9,678.8 1804.5,680.5 1805.2,684 1805.8,689.5 1806.5,689.3 1807.2,691.4 1807.8,694 1808.5,694.5 1809.1,696.1 1809.8,697.6 1810.4,697.8 1811.1,697.5 1811.8,694.8 1812.4,700.4 1813.1,698.5 1813.7,702.3 1814.4,697.4 1815,700.9 1815.7,700.4 1816.4,698.7 1817,699.4 1817.7,703.6 1818.3,700.4 1819,701.8 1819.6,700.6 1820.3,701.5 1821,700.7 1821.6,701.5 1822.3,702.2 1822.9,700.3 1823.6,704.6 1824.2,702.9 1824.9,703.8 1825.6,702.6 1826.2,703.1 1826.9,702.8 1827.5,703.3 1828.2,703.4 1828.8,705.2 1829.5,702.8 1830.2,702.4 1830.8,703.8 1831.5,703.9 1832.1,703.9 1832.8,700.5 1833.4,702.8 1834.1,702.5 1834.8,703.6 1835.4,703.9 1836.1,704.5 1836.7,700.9 1837.4,705.8 1838.1,702.8 1838.7,703.3 1839.4,703.7 1840,705.7 1840.7,705.2 1841.3,702 1842,704.4 1842.7,702.2 1843.3,702.5 1844,702.7 1844.6,702.4 1845.3,705.3 1845.9,704.2 1846.6,702.6 1847.3,705.4 1847.9,701.2 1848.6,704.4 1849.2,703.7 1849.9,705.1 1850.5,703.1 1851.2,704.8 1851.9,704.1 1852.5,705.4 1853.2,702 1853.8,706.1 1854.5,703.1 1855.1,703.4 1855.8,703.2 1856.5,705.3 1857.1,702.3 1857.8,702.4 1858.4,703.6 1859.1,703.4 1859.7,704.1 1860.4,702.9 1861.1,705.1 1861.7,703.1 1862.4,703.3 1863,705.9 1863.7,707.6 1864.3,704.1 1865,704.2" fill="none" stroke="#0000ff" stroke-width="2.8" stroke-linejoin="round"/>
<text class="tk" font-size="56.5" text-anchor="end" transform="translate(256,744.3) scale(0.978,1)">0</text>
<text class="tk" font-size="56.5" text-anchor="end" transform="translate(256,631.1) scale(0.978,1)">500</text>
<text class="tk" font-size="56.5" text-anchor="end" transform="translate(256,517.9) scale(0.978,1)">1000</text>
<text class="tk" font-size="56.5" text-anchor="end" transform="translate(256,404.7) scale(0.978,1)">1500</text>
<text class="tk" font-size="56.5" text-anchor="end" transform="translate(256,291.4) scale(0.978,1)">2000</text>
<text class="tk" font-size="56.5" text-anchor="end" transform="translate(256,178.2) scale(0.978,1)">2500</text>
<text class="tk" font-size="56.5" text-anchor="end" transform="translate(256,65) scale(0.978,1)">3000</text>
<text class="tk" font-size="56.5" text-anchor="middle" transform="translate(287.5,809.5) scale(0.978,1)">20</text>
<text class="tk" font-size="56.5" text-anchor="middle" transform="translate(550.4,809.5) scale(0.978,1)">30</text>
<text class="tk" font-size="56.5" text-anchor="middle" transform="translate(813.3,809.5) scale(0.978,1)">40</text>
<text class="tk" font-size="56.5" text-anchor="middle" transform="translate(1076.2,809.5) scale(0.978,1)">50</text>
<text class="tk" font-size="56.5" text-anchor="middle" transform="translate(1339.2,809.5) scale(0.978,1)">60</text>
<text class="tk" font-size="56.5" text-anchor="middle" transform="translate(1602.1,809.5) scale(0.978,1)">70</text>
<text class="tk" font-size="56.5" text-anchor="middle" transform="translate(1865,809.5) scale(0.978,1)">80</text>
<text class="ti" font-size="63.5" text-anchor="middle" transform="translate(1076.2,900) scale(0.9966,1)">2-Theta angle (Degrees)</text>
<text class="ty" font-size="67.6" text-anchor="middle" transform="translate(81.1,377.2) rotate(-90) scale(0.93,1)">Intensity (cps)</text>
<text class="nm" font-size="52.2" transform="translate(317.7,110.5) scale(0.978,1)">CFOJ</text>
<text class="lg" font-size="46.7" text-anchor="end" transform="translate(1828.5,102.8) scale(1.026,1)">Titanium alpha - α</text>
<text class="lg" font-size="46.7" text-anchor="end" transform="translate(1787,161.2) scale(1.026,1)">Calcium titanate -</text>
<text class="lg" font-size="46.7" text-anchor="end" transform="translate(1787,218.9) scale(1.026,1)">Anatase -</text>
<text class="dm" font-size="41.3" transform="translate(1819.5,145.9) scale(1,0.975)" x="-15.88" y="10.73">◆</text>
<path d="M-3.8,-18H3.8V3.7L14.4,-6.6V4.2L0,18.2L-14.4,4.2V-6.6L-3.8,3.7Z" transform="translate(1819,204.1)"/>
<text class="al" font-size="49" transform="translate(817.3,114.4) scale(0.977,1)">α</text>
<text class="al" font-size="49" transform="translate(770.6,413) scale(0.977,1)">α</text>
<text class="al" font-size="49" transform="translate(681,528.9) scale(0.977,1)">α</text>
<text class="al" font-size="49" transform="translate(1155.5,632.9) scale(0.977,1)">α</text>
<text class="al" font-size="49" transform="translate(1416.7,588.6) scale(0.977,1)">α</text>
<text class="al" font-size="49" transform="translate(1620.8,639.1) scale(0.977,1)">α</text>
<text class="al" font-size="49" transform="translate(1709,659.5) scale(0.977,1)">α</text>
<text class="al" font-size="49" transform="translate(1762,611.5) scale(0.977,1)">α</text>
<text class="al" font-size="49" transform="translate(1796.8,587) scale(0.977,1)">α</text>
<text class="dm" font-size="41.3" transform="translate(646.7,647.4) scale(1,0.975)" x="-15.88" y="10.73">◆</text>
<text class="dm" font-size="41.3" transform="translate(1337.7,651.5) scale(1,0.975)" x="-15.88" y="10.73">◆</text>
<path d="M-3.8,-18H3.8V3.7L14.4,-6.6V4.2L0,18.2L-14.4,4.2V-6.6L-3.8,3.7Z" transform="translate(431.9,630)"/>
</g>
<g>
<path d="M263.2,1677.7 H289 M274,1654.9 H289 M274,1632.2 H289 M274,1609.4 H289 M274,1586.7 H289 M263.2,1563.9 H289 M274,1541.1 H289 M274,1518.4 H289 M274,1495.6 H289 M274,1472.9 H289 M263.2,1450.1 H289 M274,1427.3 H289 M274,1404.6 H289 M274,1381.8 H289 M274,1359.1 H289 M263.2,1336.3 H289 M274,1313.5 H289 M274,1290.8 H289 M274,1268 H289 M274,1245.3 H289 M263.2,1222.5 H289 M274,1199.7 H289 M274,1177 H289 M274,1154.2 H289 M274,1131.5 H289 M263.2,1108.7 H289 M274,1085.9 H289 M274,1063.2 H289 M274,1040.4 H289 M274,1017.7 H289 M263.2,994.9 H289 M289,1677.7 V1703.7 M341.8,1677.7 V1692.9 M394.6,1677.7 V1692.9 M447.4,1677.7 V1692.9 M500.2,1677.7 V1692.9 M553,1677.7 V1703.7 M605.8,1677.7 V1692.9 M658.6,1677.7 V1692.9 M711.4,1677.7 V1692.9 M764.2,1677.7 V1692.9 M817,1677.7 V1703.7 M869.8,1677.7 V1692.9 M922.6,1677.7 V1692.9 M975.4,1677.7 V1692.9 M1028.2,1677.7 V1692.9 M1081,1677.7 V1703.7 M1133.8,1677.7 V1692.9 M1186.6,1677.7 V1692.9 M1239.4,1677.7 V1692.9 M1292.2,1677.7 V1692.9 M1345,1677.7 V1703.7 M1397.8,1677.7 V1692.9 M1450.6,1677.7 V1692.9 M1503.4,1677.7 V1692.9 M1556.2,1677.7 V1692.9 M1609,1677.7 V1703.7 M1661.8,1677.7 V1692.9 M1714.6,1677.7 V1692.9 M1767.4,1677.7 V1692.9 M1820.2,1677.7 V1692.9 M1873,1677.7 V1703.7" stroke="#000" stroke-width="8.4" fill="none"/>
<rect x="289" y="994.9" width="1584" height="682.8" fill="none" stroke="#000" stroke-width="8.4"/>
<path d="M288.9,990.7 V1703.7" stroke="#000" stroke-width="9" fill="none"/>
<rect x="289.9" y="1003.3" width="90" height="86.7" fill="#fff"/>
<polyline points="289.3,1677.7 289,1605.1 289.7,1608.4 290.3,1608 291,1616.9 291.6,1598.6 292.3,1601.6 293,1608.1 293.6,1603.5 294.3,1605.7 294.9,1609.4 295.6,1603 296.3,1608.6 296.9,1608.8 297.6,1610.9 298.2,1605.7 298.9,1608.2 299.6,1605.6 300.2,1610.6 300.9,1607.6 301.5,1612 302.2,1604.8 302.9,1607.7 303.5,1607.2 304.2,1607 304.8,1613.1 305.5,1605.7 306.2,1600.4 306.8,1616.1 307.5,1616.6 308.1,1615.7 308.8,1606 309.5,1609.1 310.1,1605.3 310.8,1606.9 311.4,1609.1 312.1,1608.9 312.8,1610.9 313.4,1606.8 314.1,1615.1 314.7,1612.3 315.4,1609.7 316.1,1603.4 316.7,1614.1 317.4,1615.5 318,1613.5 318.7,1607.3 319.4,1612.3 320,1606.1 320.7,1619.2 321.3,1607.1 322,1607.6 322.7,1617.7 323.3,1611.4 324,1607.2 324.6,1611.9 325.3,1608.3 326,1602.9 326.6,1611.5 327.3,1613.8 327.9,1615.9 328.6,1610.3 329.3,1613.8 329.9,1613.8 330.6,1613.6 331.2,1610.7 331.9,1617.7 332.6,1619.6 333.2,1623.3 333.9,1609 334.5,1613.6 335.2,1608 335.9,1614.1 336.5,1617.1 337.2,1612.4 337.8,1614.7 338.5,1619.4 339.2,1618.1 339.8,1607.8 340.5,1613.4 341.1,1613.3 341.8,1616.1 342.5,1617.8 343.1,1611.8 343.8,1615.7 344.4,1618.4 345.1,1616.1 345.8,1619.1 346.4,1615 347.1,1611.5 347.7,1619.2 348.4,1610.6 349.1,1618.7 349.7,1615.7 350.4,1619.5 351,1617.3 351.7,1616.4 352.4,1618.3 353,1619.4 353.7,1619.4 354.3,1620.1 355,1623 355.7,1618.1 356.3,1615.7 357,1613.9 357.6,1615 358.3,1608.3 359,1616.4 359.6,1619.4 360.3,1610.8 360.9,1621.8 361.6,1614.4 362.3,1621.7 362.9,1616.9 363.6,1625.6 364.2,1615.1 364.9,1619.1 365.6,1622.2 366.2,1612.5 366.9,1615.9 367.5,1618.7 368.2,1621.7 368.9,1619.2 369.5,1619.8 370.2,1616.6 370.8,1616.4 371.5,1621.9 372.2,1621.5 372.8,1621.6 373.5,1624.6 374.1,1622 374.8,1620.2 375.5,1617.5 376.1,1615.3 376.8,1623.1 377.4,1618.3 378.1,1622 378.8,1613 379.4,1620.7 380.1,1618.8 380.7,1624.1 381.4,1623.7 382.1,1620.2 382.7,1622.4 383.4,1619.8 384,1626.7 384.7,1618.9 385.4,1624.5 386,1615.3 386.7,1622.5 387.3,1617.7 388,1626.6 388.7,1620.3 389.3,1625 390,1623.7 390.6,1622 391.3,1623.2 392,1621.3 392.6,1619.7 393.3,1620.1 393.9,1622.8 394.6,1627.3 395.3,1625.5 395.9,1623.4 396.6,1630.2 397.2,1620.3 397.9,1623.8 398.6,1623.9 399.2,1619.9 399.9,1620.9 400.5,1622.6 401.2,1626.9 401.9,1622.4 402.5,1622.4 403.2,1626.7 403.8,1620.1 404.5,1622.1 405.2,1630.6 405.8,1623.6 406.5,1628.4 407.1,1620.3 407.8,1621.5 408.5,1628.1 409.1,1627.4 409.8,1624.1 410.4,1625.3 411.1,1619.4 411.8,1622.2 412.4,1625.7 413.1,1622.9 413.7,1631.8 414.4,1623.9 415.1,1622.1 415.7,1625.7 416.4,1627.6 417,1623.4 417.7,1618.8 418.4,1624.7 419,1629.2 419.7,1620.6 420.3,1631.8 421,1623.8 421.7,1627.5 422.3,1622.4 423,1628.3 423.6,1621 424.3,1624.3 425,1631 425.6,1631.8 426.3,1626.1 426.9,1620.6 427.6,1624.5 428.3,1624.7 428.9,1625.8 429.6,1622.6 430.2,1624 430.9,1624.5 431.6,1629 432.2,1622 432.9,1621.7 433.5,1630.7 434.2,1619.1 434.9,1624.5 435.5,1628.6 436.2,1633.4 436.8,1625.2 437.5,1625.7 438.2,1629.5 438.8,1633.5 439.5,1624.2 440.1,1629.8 440.8,1629.5 441.5,1619.8 442.1,1621.4 442.8,1625.2 443.4,1629.8 444.1,1626.4 444.8,1635.8 445.4,1628.2 446.1,1631.1 446.7,1632.8 447.4,1633.8 448.1,1627.2 448.7,1628.7 449.4,1628.5 450,1626.5 450.7,1631.8 451.4,1633.1 452,1634.9 452.7,1630.4 453.3,1627.1 454,1630 454.7,1627.6 455.3,1633.4 456,1631.2 456.6,1632.2 457.3,1633.8 458,1624.2 458.6,1627.4 459.3,1632.5 459.9,1632.5 460.6,1630.4 461.3,1634.7 461.9,1629 462.6,1634.4 463.2,1631.6 463.9,1633.7 464.6,1632.1 465.2,1634.8 465.9,1635.6 466.5,1633.8 467.2,1633 467.9,1631.9 468.5,1630.8 469.2,1626.5 469.8,1628.7 470.5,1632 471.2,1629.1 471.8,1633.5 472.5,1627.1 473.1,1629.9 473.8,1635.7 474.5,1629.4 475.1,1629.3 475.8,1639.6 476.4,1634.1 477.1,1633.3 477.8,1637.7 478.4,1635.2 479.1,1634.9 479.7,1630.7 480.4,1631.3 481.1,1624.6 481.7,1633.5 482.4,1629 483,1632.2 483.7,1631.7 484.4,1636 485,1638.3 485.7,1635 486.3,1630.5 487,1628.2 487.7,1631.1 488.3,1631.5 489,1635.5 489.6,1628.6 490.3,1629.2 491,1634.8 491.6,1633.4 492.3,1636.2 492.9,1629.1 493.6,1632.3 494.3,1633.8 494.9,1632.4 495.6,1632.4 496.2,1634.9 496.9,1637.4 497.6,1637.5 498.2,1638.9 498.9,1632.6 499.5,1627.6 500.2,1639 500.9,1633.7 501.5,1633 502.2,1637.1 502.8,1633.7 503.5,1637.5 504.2,1631 504.8,1636.2 505.5,1634.3 506.1,1632.7 506.8,1635.9 507.5,1639.8 508.1,1636.3 508.8,1632.7 509.4,1635.1 510.1,1634.3 510.8,1638 511.4,1634.7 512.1,1633.1 512.7,1635.1 513.4,1629.9 514.1,1635.9 514.7,1638.3 515.4,1639.9 516,1632.2 516.7,1635.7 517.4,1632.7 518,1634.3 518.7,1631.1 519.3,1632.2 520,1636.8 520.7,1635.1 521.3,1632.9 522,1639.4 522.6,1632 523.3,1632.7 524,1633.4 524.6,1636.7 525.3,1635.4 525.9,1639.3 526.6,1636.2 527.3,1638 527.9,1636.2 528.6,1637.8 529.2,1635.8 529.9,1633.4 530.6,1640.2 531.2,1634.2 531.9,1642.2 532.5,1642.7 533.2,1637.2 533.9,1636.9 534.5,1635.8 535.2,1641.5 535.8,1637.2 536.5,1636.8 537.2,1633.8 537.8,1637.5 538.5,1635.8 539.1,1640 539.8,1637.9 540.5,1638.6 541.1,1635.6 541.8,1640.2 542.4,1639.8 543.1,1636.1 543.8,1632.9 544.4,1636.7 545.1,1637 545.7,1638.7 546.4,1635 547.1,1636.5 547.7,1633.4 548.4,1637.1 549,1640.6 549.7,1639.6 550.4,1640.8 551,1641.5 551.7,1634.9 552.3,1636.2 553,1641.6 553.7,1633.7 554.3,1637.8 555,1641 555.6,1637.5 556.3,1638.8 557,1640.7 557.6,1643.8 558.3,1638.6 558.9,1638 559.6,1645.6 560.3,1637.4 560.9,1637.3 561.6,1640.2 562.2,1638.7 562.9,1639.8 563.6,1641.3 564.2,1640.1 564.9,1635.7 565.5,1643 566.2,1638.7 566.9,1638.9 567.5,1641.2 568.2,1640.6 568.8,1643.1 569.5,1641.7 570.2,1639.5 570.8,1638.8 571.5,1642 572.1,1633.1 572.8,1641.2 573.5,1639.5 574.1,1640.4 574.8,1640.9 575.4,1636.6 576.1,1641.2 576.8,1636.6 577.4,1637.2 578.1,1642.7 578.7,1637.5 579.4,1641.8 580.1,1633.6 580.7,1641.2 581.4,1642.7 582,1645.2 582.7,1643.7 583.4,1641.9 584,1643 584.7,1643.6 585.3,1642.3 586,1641.1 586.7,1637 587.3,1644.9 588,1642.1 588.6,1643.1 589.3,1644.6 590,1644 590.6,1643.1 591.3,1639.1 591.9,1641.4 592.6,1642.3 593.3,1639.5 593.9,1640.4 594.6,1641.7 595.2,1640.2 595.9,1643.2 596.6,1639.7 597.2,1640.1 597.9,1642.3 598.5,1644.4 599.2,1637.6 599.9,1641.2 600.5,1635.1 601.2,1643.1 601.8,1639.4 602.5,1642.6 603.2,1641 603.8,1639.6 604.5,1643.6 605.1,1642 605.8,1641.4 606.5,1641.5 607.1,1640.4 607.8,1639.3 608.4,1639.9 609.1,1641.3 609.8,1642.8 610.4,1644.7 611.1,1643.8 611.7,1643.3 612.4,1640.4 613.1,1643 613.7,1645.1 614.4,1640.7 615,1644.1 615.7,1644.1 616.4,1642.8 617,1641.1 617.7,1648.1 618.3,1645 619,1641.9 619.7,1643.3 620.3,1644.5 621,1643.7 621.6,1639.1 622.3,1643.6 623,1640.8 623.6,1640.6 624.3,1643.6 624.9,1641.5 625.6,1643.7 626.3,1644.1 626.9,1645.3 627.6,1640.5 628.2,1643.6 628.9,1644 629.6,1645.4 630.2,1638.4 630.9,1640.9 631.5,1643 632.2,1644.3 632.9,1646.3 633.5,1642 634.2,1642 634.8,1646 635.5,1639.8 636.2,1640.7 636.8,1644.8 637.5,1643.7 638.1,1643.3 638.8,1641.7 639.5,1642.3 640.1,1645.7 640.8,1637.7 641.4,1640.1 642.1,1637.2 642.8,1636.6 643.4,1639.6 644.1,1637.4 644.7,1635.4 645.4,1634.4 646.1,1636 646.7,1636.5 647.4,1633.9 648,1635.8 648.7,1634.9 649.4,1639.2 650,1633.5 650.7,1637.3 651.3,1636.8 652,1636.3 652.7,1636.2 653.3,1633 654,1638.3 654.6,1643.2 655.3,1639.8 656,1642.2 656.6,1640.2 657.3,1643.2 657.9,1643.5 658.6,1643.2 659.3,1643.7 659.9,1646.6 660.6,1643.9 661.2,1642.4 661.9,1639.5 662.6,1643 663.2,1643.2 663.9,1640.9 664.5,1640.9 665.2,1638.2 665.9,1640.6 666.5,1641.9 667.2,1638.5 667.8,1637.9 668.5,1642.6 669.2,1640.8 669.8,1645.2 670.5,1641.6 671.1,1642.7 671.8,1640.6 672.5,1640.9 673.1,1639.7 673.8,1639 674.4,1636.9 675.1,1636.9 675.8,1638.2 676.4,1639.4 677.1,1631.1 677.7,1629.2 678.4,1633 679.1,1627.7 679.7,1631.8 680.4,1628.7 681,1619.8 681.7,1607 682.4,1610.1 683,1600.3 683.7,1576.2 684.3,1582.7 685,1552.4 685.7,1537.4 686.3,1527.5 687,1514 687.6,1492.2 688.3,1523.6 689,1528.4 689.6,1542.4 690.3,1561 690.9,1579.7 691.6,1576.6 692.3,1595.5 692.9,1613.5 693.6,1616.1 694.2,1617.7 694.9,1622.4 695.6,1631.9 696.2,1630.3 696.9,1631.4 697.5,1632.8 698.2,1634.2 698.9,1641.5 699.5,1632.5 700.2,1637.7 700.8,1634.3 701.5,1633 702.2,1640.6 702.8,1643.8 703.5,1639 704.1,1641.9 704.8,1642.9 705.5,1644.6 706.1,1638.3 706.8,1643.7 707.4,1646.2 708.1,1644.1 708.8,1645.9 709.4,1643 710.1,1644.5 710.7,1646.1 711.4,1642.4 712.1,1645.3 712.7,1642.3 713.4,1641.1 714,1644.9 714.7,1645.6 715.4,1643.7 716,1642.1 716.7,1644.2 717.3,1643.9 718,1644.2 718.7,1643.4 719.3,1642.5 720,1645.5 720.6,1644.8 721.3,1643.4 722,1644.7 722.6,1642.5 723.3,1641.1 723.9,1641.9 724.6,1642.7 725.3,1642.4 725.9,1635.2 726.6,1636.5 727.2,1640.8 727.9,1639.2 728.6,1630.8 729.2,1630.9 729.9,1634.1 730.5,1630.6 731.2,1638.1 731.9,1633.9 732.5,1632.1 733.2,1640.1 733.8,1637.8 734.5,1634.2 735.2,1634.2 735.8,1639.6 736.5,1638 737.1,1635.4 737.8,1641 738.5,1643.9 739.1,1641.1 739.8,1642.2 740.4,1638.2 741.1,1641.1 741.8,1643.5 742.4,1635.6 743.1,1642.6 743.7,1640 744.4,1639.3 745.1,1638.8 745.7,1640 746.4,1638.7 747,1640 747.7,1643.1 748.4,1639.6 749,1639.1 749.7,1638.6 750.3,1637.3 751,1638.9 751.7,1633.1 752.3,1631.8 753,1641.7 753.6,1635 754.3,1636.4 755,1641.3 755.6,1631.9 756.3,1634.3 756.9,1632.9 757.6,1633 758.3,1626.9 758.9,1625.6 759.6,1627.8 760.2,1625.5 760.9,1627.1 761.6,1625.1 762.2,1626.8 762.9,1622.5 763.5,1623.3 764.2,1616.9 764.9,1611.9 765.5,1609.9 766.2,1600.9 766.8,1587.3 767.5,1601.9 768.2,1580.8 768.8,1571.7 769.5,1556.1 770.1,1544.8 770.8,1515 771.5,1495.1 772.1,1474.4 772.8,1446.8 773.4,1425.9 774.1,1420.9 774.8,1370 775.4,1372 776.1,1374.7 776.7,1366.3 777.4,1388 778.1,1420.5 778.7,1414 779.4,1461.2 780,1473.5 780.7,1495 781.4,1508.9 782,1531.1 782.7,1556 783.3,1577 784,1587.6 784.7,1590.6 785.3,1596.5 786,1608.9 786.6,1618.9 787.3,1616.8 788,1624.9 788.6,1627.4 789.3,1628.9 789.9,1627.6 790.6,1629.8 791.3,1628.6 791.9,1628.5 792.6,1631.4 793.2,1640.2 793.9,1638.6 794.6,1633.5 795.2,1634.3 795.9,1628 796.5,1634.3 797.2,1634.6 797.9,1631.3 798.5,1630.7 799.2,1634.2 799.8,1631.8 800.5,1636 801.2,1635 801.8,1627.8 802.5,1635.1 803.1,1627 803.8,1626.8 804.5,1625.3 805.1,1623.5 805.8,1623.1 806.4,1630.6 807.1,1624.7 807.8,1620.9 808.4,1612.2 809.1,1616.7 809.7,1610.6 810.4,1603.5 811.1,1588 811.7,1593 812.4,1581.2 813,1554.2 813.7,1553.5 814.4,1513.4 815,1491 815.7,1467.3 816.3,1418.8 817,1381 817.7,1321.2 818.3,1268.3 819,1203.6 819.6,1174.4 820.3,1132.5 821,1113.4 821.6,1093.4 822.3,1084.1 822.9,1147.1 823.6,1148.7 824.3,1209.3 824.9,1251.8 825.6,1300.2 826.2,1344.3 826.9,1396.6 827.6,1443.5 828.2,1473.4 828.9,1506.4 829.5,1533.4 830.2,1551.5 830.9,1564.3 831.5,1582 832.2,1592.5 832.8,1607.4 833.5,1608.5 834.2,1620.5 834.8,1614.5 835.5,1624 836.1,1619 836.8,1617.2 837.5,1629.2 838.1,1625.6 838.8,1630.1 839.4,1634.4 840.1,1636.4 840.8,1633.6 841.4,1632.4 842.1,1636.3 842.7,1642.1 843.4,1641.6 844.1,1640.2 844.7,1636.9 845.4,1640.3 846,1640.8 846.7,1639.2 847.4,1643.1 848,1643.3 848.7,1644 849.3,1648.1 850,1643.3 850.7,1643.8 851.3,1642.9 852,1648 852.6,1647.5 853.3,1643.9 854,1645.5 854.6,1643.5 855.3,1648.6 855.9,1646.6 856.6,1648.6 857.3,1646.8 857.9,1648.6 858.6,1646.7 859.2,1645.7 859.9,1646.8 860.6,1652.1 861.2,1646.6 861.9,1647.7 862.5,1650.9 863.2,1650.7 863.9,1649.1 864.5,1648 865.2,1650.2 865.8,1652.7 866.5,1649 867.2,1649.3 867.8,1645 868.5,1652.4 869.1,1645 869.8,1646.7 870.5,1649.6 871.1,1647 871.8,1650.2 872.4,1648.5 873.1,1651.9 873.8,1650.5 874.4,1652.6 875.1,1653.8 875.7,1651.4 876.4,1652.2 877.1,1649.9 877.7,1648.6 878.4,1651.4 879,1651.1 879.7,1650.9 880.4,1654.5 881,1650.9 881.7,1651.4 882.3,1651.6 883,1653.6 883.7,1655.3 884.3,1652.1 885,1651.1 885.6,1649.3 886.3,1649.7 887,1649.2 887.6,1651.2 888.3,1649.8 888.9,1652.4 889.6,1650.9 890.3,1650.4 890.9,1647.4 891.6,1651.7 892.2,1654.5 892.9,1649.7 893.6,1653.7 894.2,1652.4 894.9,1652.9 895.5,1654.1 896.2,1650 896.9,1651.4 897.5,1653.6 898.2,1652.4 898.8,1653.4 899.5,1651.5 900.2,1653.3 900.8,1654.1 901.5,1653.9 902.1,1653.6 902.8,1652.3 903.5,1654.5 904.1,1653 904.8,1652.1 905.4,1648.8 906.1,1651.4 906.8,1657.6 907.4,1653.9 908.1,1653.8 908.7,1652.5 909.4,1650.3 910.1,1651.8 910.7,1657.2 911.4,1652.7 912,1653 912.7,1652.5 913.4,1650.9 914,1655.2 914.7,1651.4 915.3,1656.3 916,1653.3 916.7,1652.7 917.3,1649.4 918,1654.7 918.6,1656.5 919.3,1652.3 920,1654.7 920.6,1650.8 921.3,1654.8 921.9,1655.1 922.6,1651.5 923.3,1653.5 923.9,1651.9 924.6,1656.2 925.2,1650.9 925.9,1654.8 926.6,1652.3 927.2,1655.5 927.9,1656.5 928.5,1654.3 929.2,1653.6 929.9,1651.2 930.5,1653.3 931.2,1652.7 931.8,1652.8 932.5,1649.5 933.2,1655.4 933.8,1651.8 934.5,1654.3 935.1,1653.6 935.8,1655 936.5,1652.1 937.1,1656.3 937.8,1656.4 938.4,1654.5 939.1,1656.1 939.8,1653 940.4,1652.6 941.1,1655.5 941.7,1652.9 942.4,1655.4 943.1,1654.3 943.7,1654.3 944.4,1651.1 945,1654.3 945.7,1655.9 946.4,1655.9 947,1652.3 947.7,1657.2 948.3,1655.2 949,1655.1 949.7,1658.6 950.3,1655.3 951,1652.8 951.6,1654.1 952.3,1656 953,1653.4 953.6,1653.7 954.3,1651.2 954.9,1655.8 955.6,1655.3 956.3,1654.6 956.9,1654.9 957.6,1654.5 958.2,1654.9 958.9,1655.9 959.6,1657.4 960.2,1655.7 960.9,1657.1 961.5,1656.5 962.2,1655.7 962.9,1653.9 963.5,1653.4 964.2,1656.6 964.8,1654.3 965.5,1653.5 966.2,1655 966.8,1657.6 967.5,1658.5 968.1,1653.6 968.8,1653.4 969.5,1654.5 970.1,1656.7 970.8,1652.6 971.4,1653 972.1,1655.1 972.8,1655.4 973.4,1658.3 974.1,1653.8 974.7,1657.8 975.4,1654 976.1,1653.9 976.7,1655 977.4,1652.5 978,1655.7 978.7,1654.2 979.4,1653.9 980,1654.8 980.7,1655.9 981.3,1653.2 982,1654.6 982.7,1655.6 983.3,1655.6 984,1655.1 984.6,1651.6 985.3,1655.1 986,1655.7 986.6,1657.1 987.3,1657.4 987.9,1658.5 988.6,1655 989.3,1655.4 989.9,1657.1 990.6,1657.9 991.2,1656 991.9,1656.3 992.6,1657.7 993.2,1655 993.9,1655.3 994.5,1655.6 995.2,1654.3 995.9,1656.6 996.5,1653.3 997.2,1657.2 997.8,1654.7 998.5,1654.6 999.2,1656 999.8,1655 1000.5,1657.7 1001.1,1658.1 1001.8,1656 1002.5,1656.8 1003.1,1654.7 1003.8,1655.6 1004.4,1654.7 1005.1,1655.2 1005.8,1655.4 1006.4,1655.6 1007.1,1656.4 1007.7,1656.5 1008.4,1652.5 1009.1,1658.6 1009.7,1656.1 1010.4,1654.2 1011,1655.1 1011.7,1653.6 1012.4,1655 1013,1657.9 1013.7,1656.4 1014.3,1658.1 1015,1654.3 1015.7,1653.6 1016.3,1656.6 1017,1655.1 1017.6,1656.6 1018.3,1658.3 1019,1656.7 1019.6,1658.5 1020.3,1656.9 1020.9,1655.7 1021.6,1654.9 1022.3,1654 1022.9,1656.6 1023.6,1655.7 1024.2,1655.4 1024.9,1655.2 1025.6,1660.2 1026.2,1657.3 1026.9,1654.8 1027.5,1657.9 1028.2,1655.7 1028.9,1654.8 1029.5,1659.2 1030.2,1656.5 1030.8,1655.8 1031.5,1656.2 1032.2,1658.6 1032.8,1655.7 1033.5,1657.1 1034.1,1654.9 1034.8,1655.6 1035.5,1657.1 1036.1,1656 1036.8,1657.4 1037.4,1657.4 1038.1,1658.8 1038.8,1656.7 1039.4,1655.1 1040.1,1656.2 1040.7,1656.4 1041.4,1657.4 1042.1,1657.2 1042.7,1655.2 1043.4,1658.8 1044,1653.2 1044.7,1656.5 1045.4,1653 1046,1654.6 1046.7,1657.1 1047.3,1655.3 1048,1656.1 1048.7,1655.8 1049.3,1655.3 1050,1657.4 1050.6,1657.5 1051.3,1657.2 1052,1658.7 1052.6,1657 1053.3,1656.2 1053.9,1656.2 1054.6,1656.3 1055.3,1657.2 1055.9,1655.4 1056.6,1659.9 1057.2,1657.3 1057.9,1657.2 1058.6,1655.3 1059.2,1655.7 1059.9,1655.5 1060.5,1656.7 1061.2,1655.2 1061.9,1658.3 1062.5,1656.6 1063.2,1660.1 1063.8,1654.1 1064.5,1654.3 1065.2,1657.7 1065.8,1658.1 1066.5,1660.1 1067.1,1659.2 1067.8,1656.6 1068.5,1657.1 1069.1,1659.2 1069.8,1657.6 1070.4,1657.9 1071.1,1656.1 1071.8,1655.8 1072.4,1657.2 1073.1,1656.7 1073.7,1656.9 1074.4,1660.2 1075.1,1656.6 1075.7,1657 1076.4,1655.8 1077,1659.8 1077.7,1655.7 1078.4,1657.9 1079,1656.5 1079.7,1655.1 1080.3,1659.3 1081,1659 1081.7,1655.4 1082.3,1658.7 1083,1658.5 1083.6,1656.1 1084.3,1657.3 1085,1655.8 1085.6,1656.5 1086.3,1657 1086.9,1655.5 1087.6,1653.6 1088.3,1657.2 1088.9,1654.7 1089.6,1655.3 1090.2,1656.9 1090.9,1656.3 1091.6,1658.5 1092.2,1658 1092.9,1656.6 1093.5,1657.1 1094.2,1655.1 1094.9,1659.1 1095.5,1657.5 1096.2,1658.1 1096.8,1657.3 1097.5,1655.3 1098.2,1658.9 1098.8,1655.8 1099.5,1658 1100.1,1657.6 1100.8,1655.5 1101.5,1657.5 1102.1,1656.1 1102.8,1656.9 1103.4,1657.4 1104.1,1657.7 1104.8,1659.8 1105.4,1658.2 1106.1,1656.8 1106.7,1656.8 1107.4,1659.4 1108.1,1655.5 1108.7,1656.2 1109.4,1659.1 1110,1658.7 1110.7,1656.3 1111.4,1659.8 1112,1658.2 1112.7,1657.2 1113.3,1657.3 1114,1657.2 1114.7,1656.5 1115.3,1658.3 1116,1657.8 1116.6,1653.9 1117.3,1659.2 1118,1657.7 1118.6,1656.8 1119.3,1658 1119.9,1655.1 1120.6,1656.9 1121.3,1655.8 1121.9,1660.8 1122.6,1655.1 1123.2,1655.1 1123.9,1658.1 1124.6,1654.9 1125.2,1656.5 1125.9,1655.4 1126.5,1654 1127.2,1656.7 1127.9,1658.4 1128.5,1656.8 1129.2,1658.7 1129.8,1658 1130.5,1657.9 1131.2,1657.7 1131.8,1654.8 1132.5,1655.2 1133.1,1657.9 1133.8,1654.7 1134.5,1659.1 1135.1,1657.4 1135.8,1656.5 1136.4,1654.3 1137.1,1654.9 1137.8,1655.3 1138.4,1653.8 1139.1,1654.6 1139.7,1653.4 1140.4,1656.8 1141.1,1658.1 1141.7,1655.8 1142.4,1653.4 1143,1654 1143.7,1652.6 1144.4,1652.4 1145,1652.2 1145.7,1651 1146.3,1653.1 1147,1648.8 1147.7,1651.9 1148.3,1649 1149,1650.4 1149.6,1644.9 1150.3,1647.9 1151,1639.2 1151.6,1644 1152.3,1637.8 1152.9,1636.7 1153.6,1636.5 1154.3,1627.8 1154.9,1630.6 1155.6,1622 1156.2,1628.1 1156.9,1625.3 1157.6,1627.9 1158.2,1617.2 1158.9,1614.8 1159.5,1616.8 1160.2,1618.2 1160.9,1621.5 1161.5,1610.3 1162.2,1617.7 1162.8,1628.7 1163.5,1625.3 1164.2,1634.8 1164.8,1623.8 1165.5,1625.2 1166.1,1629.4 1166.8,1636.1 1167.5,1639.8 1168.1,1643.9 1168.8,1641.1 1169.4,1645.9 1170.1,1646.7 1170.8,1648.7 1171.4,1649.3 1172.1,1648.1 1172.7,1647.7 1173.4,1651.5 1174.1,1652.6 1174.7,1655.2 1175.4,1656 1176,1656.1 1176.7,1653.2 1177.4,1654.6 1178,1653.7 1178.7,1654.9 1179.3,1656.4 1180,1658 1180.7,1656.7 1181.3,1658.5 1182,1653.2 1182.6,1656 1183.3,1657.1 1184,1653.5 1184.6,1657.3 1185.3,1655.9 1185.9,1657.1 1186.6,1656.4 1187.3,1657.6 1187.9,1656.3 1188.6,1654.9 1189.2,1659.1 1189.9,1660.6 1190.6,1655.1 1191.2,1657 1191.9,1656 1192.5,1657.8 1193.2,1655 1193.9,1654.6 1194.5,1659.2 1195.2,1656.4 1195.8,1658.4 1196.5,1660 1197.2,1658 1197.8,1656.7 1198.5,1659.7 1199.1,1659.6 1199.8,1655.8 1200.5,1657.6 1201.1,1657.1 1201.8,1659.5 1202.4,1658.7 1203.1,1657.6 1203.8,1657.5 1204.4,1657.6 1205.1,1655.5 1205.7,1657.6 1206.4,1660.2 1207.1,1659.2 1207.7,1658 1208.4,1656 1209,1659 1209.7,1658.6 1210.4,1658.1 1211,1659.1 1211.7,1659.3 1212.3,1658.4 1213,1656.6 1213.7,1657.4 1214.3,1658.5 1215,1657.5 1215.6,1660.1 1216.3,1656.7 1217,1657.1 1217.6,1657.7 1218.3,1660.6 1218.9,1655.2 1219.6,1661.9 1220.3,1659.7 1220.9,1659.6 1221.6,1657.2 1222.2,1660.5 1222.9,1657.9 1223.6,1658.5 1224.2,1658.7 1224.9,1657 1225.5,1656.2 1226.2,1657.7 1226.9,1658.7 1227.5,1661.7 1228.2,1656.1 1228.8,1658.8 1229.5,1661.1 1230.2,1658.1 1230.8,1656.2 1231.5,1658.6 1232.1,1660.1 1232.8,1655 1233.5,1657.5 1234.1,1657.9 1234.8,1656.9 1235.4,1661.6 1236.1,1658.5 1236.8,1658.6 1237.4,1655.1 1238.1,1659.2 1238.7,1659.2 1239.4,1660.5 1240.1,1659.6 1240.7,1658.7 1241.4,1658 1242,1658.7 1242.7,1655.5 1243.4,1657.7 1244,1657.5 1244.7,1656.4 1245.3,1657.5 1246,1659.2 1246.7,1660.7 1247.3,1658 1248,1659.7 1248.6,1656.6 1249.3,1659.6 1250,1661.8 1250.6,1658.4 1251.3,1656.9 1251.9,1658.8 1252.6,1658.3 1253.3,1658.3 1253.9,1656 1254.6,1658.1 1255.2,1658.6 1255.9,1659.5 1256.6,1661 1257.2,1656.5 1257.9,1656.9 1258.5,1660 1259.2,1657.7 1259.9,1658.1 1260.5,1659.1 1261.2,1659 1261.8,1657.5 1262.5,1660.4 1263.2,1659.4 1263.8,1658.7 1264.5,1658.6 1265.1,1658.9 1265.8,1658.3 1266.5,1657.8 1267.1,1659.9 1267.8,1658.5 1268.4,1659.4 1269.1,1656.4 1269.8,1660.7 1270.4,1659 1271.1,1657.6 1271.7,1659.1 1272.4,1659.1 1273.1,1659.4 1273.7,1658.2 1274.4,1660.4 1275,1658.8 1275.7,1658.8 1276.4,1660.8 1277,1658.3 1277.7,1659.4 1278.3,1658.2 1279,1657.4 1279.7,1658.2 1280.3,1660.4 1281,1658.2 1281.6,1661 1282.3,1659.8 1283,1656.2 1283.6,1658.7 1284.3,1656.4 1284.9,1658.9 1285.6,1658.7 1286.3,1660.3 1286.9,1657.3 1287.6,1659 1288.2,1657.8 1288.9,1658 1289.6,1657.9 1290.2,1658.2 1290.9,1658.7 1291.5,1658.7 1292.2,1659.7 1292.9,1661.8 1293.5,1658 1294.2,1655.6 1294.8,1657.1 1295.5,1655.3 1296.2,1658 1296.8,1660.1 1297.5,1660.1 1298.1,1657.6 1298.8,1658.1 1299.5,1658.9 1300.1,1657.6 1300.8,1659.9 1301.4,1657.9 1302.1,1659 1302.8,1658.4 1303.4,1656.9 1304.1,1658.8 1304.7,1656.6 1305.4,1656.7 1306.1,1659.7 1306.7,1655.2 1307.4,1660.4 1308,1658.8 1308.7,1657.5 1309.4,1661.9 1310,1657.1 1310.7,1656.9 1311.3,1658.8 1312,1658.2 1312.7,1658.3 1313.3,1658.9 1314,1657 1314.6,1659.1 1315.3,1658.6 1316,1658 1316.6,1657.3 1317.3,1656.9 1317.9,1660.7 1318.6,1661.5 1319.3,1658.7 1319.9,1658.6 1320.6,1660.1 1321.2,1658 1321.9,1657.6 1322.6,1657.9 1323.2,1656 1323.9,1660 1324.5,1658.4 1325.2,1655.6 1325.9,1657.4 1326.5,1660 1327.2,1658 1327.8,1656.5 1328.5,1655.2 1329.2,1657.2 1329.8,1656.4 1330.5,1659.7 1331.1,1658.3 1331.8,1656.1 1332.5,1659.2 1333.1,1657.7 1333.8,1660.3 1334.4,1654.9 1335.1,1657.2 1335.8,1655.8 1336.4,1658.8 1337.1,1658.2 1337.7,1652.8 1338.4,1655.9 1339.1,1655.8 1339.7,1653.6 1340.4,1653.1 1341,1657.1 1341.7,1654.9 1342.4,1652.7 1343,1652.4 1343.7,1651.5 1344.3,1652.8 1345,1652.4 1345.7,1651.6 1346.3,1653.4 1347,1653.9 1347.6,1653.7 1348.3,1653.1 1349,1653.8 1349.6,1654.8 1350.3,1654.9 1350.9,1655 1351.6,1654.8 1352.3,1655.1 1352.9,1658.1 1353.6,1654.8 1354.2,1659.2 1354.9,1656.1 1355.6,1658.2 1356.2,1656.4 1356.9,1655.9 1357.5,1660.5 1358.2,1656.9 1358.9,1657.4 1359.5,1658.6 1360.2,1657.4 1360.8,1658.8 1361.5,1657.9 1362.2,1659.7 1362.8,1657 1363.5,1657.3 1364.1,1657.1 1364.8,1659.2 1365.5,1655.5 1366.1,1655.3 1366.8,1658.4 1367.4,1658.9 1368.1,1658.9 1368.8,1657.2 1369.4,1656.7 1370.1,1659.3 1370.7,1661.2 1371.4,1657.6 1372.1,1658.3 1372.7,1658 1373.4,1657.4 1374,1659.8 1374.7,1658.1 1375.4,1658.6 1376,1657.6 1376.7,1656.3 1377.3,1658.1 1378,1659.4 1378.7,1656.2 1379.3,1657 1380,1658.3 1380.6,1660.7 1381.3,1659.3 1382,1657.7 1382.6,1657.1 1383.3,1658.7 1383.9,1657.2 1384.6,1658.8 1385.3,1658.4 1385.9,1656.9 1386.6,1658.1 1387.2,1657.4 1387.9,1656.3 1388.6,1655.8 1389.2,1658.4 1389.9,1657.8 1390.5,1659.4 1391.2,1659.3 1391.9,1656.7 1392.5,1657.9 1393.2,1659.9 1393.8,1656.1 1394.5,1658.1 1395.2,1657.2 1395.8,1655.9 1396.5,1655.8 1397.1,1656.4 1397.8,1659.4 1398.5,1655.1 1399.1,1656.8 1399.8,1657.9 1400.4,1659 1401.1,1653 1401.8,1654.6 1402.4,1654.4 1403.1,1653.2 1403.7,1653.9 1404.4,1655.9 1405.1,1651.5 1405.7,1650.1 1406.4,1650.2 1407,1647.1 1407.7,1645.1 1408.4,1649.3 1409,1646.9 1409.7,1641.8 1410.3,1641.1 1411,1638.3 1411.7,1633.1 1412.3,1630 1413,1629.6 1413.6,1623.2 1414.3,1621.4 1415,1614.1 1415.6,1612.3 1416.3,1610.4 1416.9,1597.4 1417.6,1591.5 1418.3,1576.8 1418.9,1566.3 1419.6,1569.3 1420.2,1561.1 1420.9,1563.4 1421.6,1561.9 1422.2,1555.6 1422.9,1554.9 1423.5,1551.9 1424.2,1555.3 1424.9,1549.1 1425.5,1565.3 1426.2,1579.2 1426.8,1574.7 1427.5,1585.5 1428.2,1587.3 1428.8,1589.4 1429.5,1604.3 1430.1,1607.8 1430.8,1611.2 1431.5,1622.2 1432.1,1622.9 1432.8,1626.4 1433.4,1629.8 1434.1,1632.7 1434.8,1637.5 1435.4,1640.7 1436.1,1647.2 1436.7,1651.6 1437.4,1649.7 1438.1,1646.2 1438.7,1650 1439.4,1655.5 1440,1652.9 1440.7,1652.1 1441.4,1656.6 1442,1652.9 1442.7,1656.3 1443.3,1652.9 1444,1655 1444.7,1651 1445.3,1657.7 1446,1655.3 1446.6,1658.3 1447.3,1654.3 1448,1656.1 1448.6,1655 1449.3,1656.4 1449.9,1658.6 1450.6,1657.9 1451.3,1658.9 1451.9,1658.7 1452.6,1657 1453.2,1655.7 1453.9,1656.1 1454.6,1656.7 1455.2,1658.4 1455.9,1656.9 1456.5,1659 1457.2,1657.5 1457.9,1656.6 1458.5,1658.2 1459.2,1658.6 1459.8,1658.6 1460.5,1657.2 1461.2,1658.6 1461.8,1660.2 1462.5,1658.8 1463.1,1659.8 1463.8,1656.1 1464.5,1658.3 1465.1,1660.5 1465.8,1658 1466.4,1657.4 1467.1,1657.9 1467.8,1659 1468.4,1658.3 1469.1,1658.2 1469.7,1657.2 1470.4,1658.1 1471.1,1655.4 1471.7,1659 1472.4,1656.5 1473,1658.7 1473.7,1661.2 1474.4,1660.4 1475,1661.4 1475.7,1661.2 1476.3,1657.1 1477,1659.8 1477.7,1658 1478.3,1660.1 1479,1658.9 1479.6,1660.4 1480.3,1657.7 1481,1659.3 1481.6,1659.6 1482.3,1659.2 1482.9,1655.9 1483.6,1658.4 1484.3,1657.9 1484.9,1660.8 1485.6,1660 1486.2,1658.6 1486.9,1661.7 1487.6,1657.2 1488.2,1658.7 1488.9,1659.1 1489.5,1659.4 1490.2,1659.5 1490.9,1659.8 1491.5,1657.2 1492.2,1658.2 1492.8,1657.4 1493.5,1659.6 1494.2,1660.4 1494.8,1657.3 1495.5,1660.9 1496.1,1660.1 1496.8,1658.2 1497.5,1657.7 1498.1,1661.1 1498.8,1659.6 1499.4,1659.2 1500.1,1659.4 1500.8,1660.5 1501.4,1658.3 1502.1,1660 1502.7,1659.6 1503.4,1662.4 1504.1,1659.5 1504.7,1662 1505.4,1658.3 1506,1658.6 1506.7,1660 1507.4,1659.1 1508,1659.2 1508.7,1659.5 1509.3,1658.8 1510,1659.5 1510.7,1660 1511.3,1660.5 1512,1657.1 1512.6,1659.1 1513.3,1659.4 1514,1658.4 1514.6,1659.9 1515.3,1659.9 1515.9,1658.5 1516.6,1658 1517.3,1658.5 1517.9,1661.4 1518.6,1659.3 1519.2,1659.4 1519.9,1658.8 1520.6,1660.6 1521.2,1660.9 1521.9,1659.6 1522.5,1660.6 1523.2,1660.9 1523.9,1659.5 1524.5,1658.2 1525.2,1659.2 1525.8,1657.9 1526.5,1660.8 1527.2,1658.5 1527.8,1659.5 1528.5,1660.7 1529.1,1660 1529.8,1660.6 1530.5,1659.7 1531.1,1660.5 1531.8,1657.7 1532.4,1659.9 1533.1,1661.4 1533.8,1659.7 1534.4,1658.9 1535.1,1659.9 1535.7,1658.3 1536.4,1660.7 1537.1,1660.6 1537.7,1657.2 1538.4,1659.5 1539,1658.7 1539.7,1658.8 1540.4,1658.7 1541,1659.4 1541.7,1659.7 1542.3,1658 1543,1660.1 1543.7,1659.3 1544.3,1658.5 1545,1660 1545.6,1661.6 1546.3,1658.8 1547,1658 1547.6,1659.1 1548.3,1661.7 1548.9,1658.6 1549.6,1656.8 1550.3,1661.6 1550.9,1663 1551.6,1659.8 1552.2,1659.3 1552.9,1658.4 1553.6,1658.3 1554.2,1659.3 1554.9,1658.7 1555.5,1659 1556.2,1659.3 1556.9,1659.5 1557.5,1659.6 1558.2,1658.5 1558.8,1658.9 1559.5,1660 1560.2,1657.9 1560.8,1660.4 1561.5,1659.7 1562.1,1659.2 1562.8,1662 1563.5,1659.9 1564.1,1658.2 1564.8,1658.3 1565.4,1661 1566.1,1660.5 1566.8,1660.8 1567.4,1659.7 1568.1,1659.4 1568.7,1661.5 1569.4,1658.9 1570.1,1659.2 1570.7,1659.4 1571.4,1660.2 1572,1659.6 1572.7,1661.7 1573.4,1659 1574,1659 1574.7,1659.4 1575.3,1660.9 1576,1657.5 1576.7,1657.7 1577.3,1661.8 1578,1658.6 1578.6,1659 1579.3,1662.7 1580,1658.5 1580.6,1658.3 1581.3,1658.2 1581.9,1658.9 1582.6,1660 1583.3,1659.8 1583.9,1658.4 1584.6,1657.4 1585.2,1659.7 1585.9,1659.4 1586.6,1658 1587.2,1661.9 1587.9,1658.3 1588.5,1659.2 1589.2,1661.9 1589.9,1657.8 1590.5,1660.1 1591.2,1657.7 1591.8,1656.8 1592.5,1660.4 1593.2,1660.3 1593.8,1658.6 1594.5,1661 1595.1,1657.5 1595.8,1658.2 1596.5,1657 1597.1,1660.9 1597.8,1658 1598.4,1657.5 1599.1,1660.6 1599.8,1656.7 1600.4,1659.9 1601.1,1657.5 1601.7,1659.5 1602.4,1656.3 1603.1,1654.7 1603.7,1656.9 1604.4,1656.7 1605,1654.5 1605.7,1656.9 1606.4,1655.8 1607,1654.1 1607.7,1654.3 1608.3,1651.8 1609,1651.8 1609.7,1649.9 1610.3,1652.5 1611,1649.6 1611.6,1652.2 1612.3,1648 1613,1645.1 1613.6,1642.6 1614.3,1648.8 1614.9,1645.2 1615.6,1641.8 1616.3,1644 1616.9,1639 1617.6,1637.3 1618.2,1638.3 1618.9,1636.8 1619.6,1636.3 1620.2,1631.1 1620.9,1626.6 1621.5,1628 1622.2,1619.4 1622.9,1631 1623.5,1627.1 1624.2,1622.1 1624.8,1627.6 1625.5,1622.3 1626.2,1620.7 1626.8,1623.1 1627.5,1625 1628.1,1621.9 1628.8,1624.7 1629.5,1624.9 1630.1,1626.9 1630.8,1632.1 1631.4,1634.9 1632.1,1634.4 1632.8,1634.5 1633.4,1637.2 1634.1,1635.9 1634.7,1639.3 1635.4,1639.2 1636.1,1642.8 1636.7,1646.1 1637.4,1644 1638,1646.1 1638.7,1650 1639.4,1650.2 1640,1645.6 1640.7,1656.4 1641.3,1650.1 1642,1652.8 1642.7,1653.7 1643.3,1654.7 1644,1655.6 1644.6,1651.4 1645.3,1656.3 1646,1656.5 1646.6,1655.1 1647.3,1656 1647.9,1657.1 1648.6,1657.5 1649.3,1659.2 1649.9,1655.8 1650.6,1659.1 1651.2,1661.2 1651.9,1656.2 1652.6,1656.8 1653.2,1657.5 1653.9,1658.8 1654.5,1656.4 1655.2,1659.7 1655.9,1661.4 1656.5,1658 1657.2,1657.1 1657.8,1657.4 1658.5,1655.4 1659.2,1657.2 1659.8,1658.7 1660.5,1658.7 1661.1,1657.1 1661.8,1658.5 1662.5,1658.5 1663.1,1660.8 1663.8,1658.7 1664.4,1660 1665.1,1657.7 1665.8,1657.8 1666.4,1656.8 1667.1,1655 1667.7,1657.8 1668.4,1655.2 1669.1,1658.9 1669.7,1656.8 1670.4,1655.4 1671,1653.7 1671.7,1658.3 1672.4,1657 1673,1656.4 1673.7,1656.9 1674.3,1658.3 1675,1659.5 1675.7,1659.1 1676.3,1657.5 1677,1659.6 1677.6,1655.1 1678.3,1656.1 1679,1660.8 1679.6,1658.9 1680.3,1656.3 1680.9,1656.3 1681.6,1656.8 1682.3,1660.5 1682.9,1659 1683.6,1656.7 1684.2,1658.4 1684.9,1659.2 1685.6,1657.8 1686.2,1657.1 1686.9,1658.3 1687.5,1658.2 1688.2,1656.9 1688.9,1659.3 1689.5,1659.7 1690.2,1657.3 1690.8,1660.1 1691.5,1657.6 1692.2,1659.3 1692.8,1656.9 1693.5,1659.8 1694.1,1656.3 1694.8,1657.5 1695.5,1658.2 1696.1,1658.9 1696.8,1657.7 1697.4,1658.6 1698.1,1658.8 1698.8,1655 1699.4,1655.4 1700.1,1654 1700.7,1657.8 1701.4,1658.3 1702.1,1657.2 1702.7,1652.7 1703.4,1651.7 1704,1655.7 1704.7,1649.5 1705.4,1651.2 1706,1651.7 1706.7,1648.3 1707.3,1645.7 1708,1646.1 1708.7,1644.6 1709.3,1644.8 1710,1644.9 1710.6,1640.9 1711.3,1642.8 1712,1635.6 1712.6,1638.3 1713.3,1631.2 1713.9,1638.6 1714.6,1629.2 1715.3,1635.5 1715.9,1635.4 1716.6,1632 1717.2,1630.7 1717.9,1634.1 1718.6,1635.8 1719.2,1630.3 1719.9,1635.7 1720.5,1641.6 1721.2,1640.5 1721.9,1637 1722.5,1641.8 1723.2,1642.1 1723.8,1640.8 1724.5,1647.9 1725.2,1647.1 1725.8,1650.4 1726.5,1650.1 1727.1,1650 1727.8,1654.4 1728.5,1652.5 1729.1,1653.2 1729.8,1652.2 1730.4,1655.6 1731.1,1657.2 1731.8,1654.8 1732.4,1657.6 1733.1,1655.8 1733.7,1655.5 1734.4,1657.9 1735.1,1656.9 1735.7,1658.5 1736.4,1661 1737,1659.3 1737.7,1660.3 1738.4,1657.2 1739,1658.8 1739.7,1657.5 1740.3,1657.3 1741,1655.6 1741.7,1657.8 1742.3,1657.8 1743,1656.4 1743.6,1654.6 1744.3,1657.2 1745,1656.5 1745.6,1657.2 1746.3,1657.9 1746.9,1659.1 1747.6,1656.7 1748.3,1656.9 1748.9,1656.7 1749.6,1652.9 1750.2,1656.4 1750.9,1655 1751.6,1655.8 1752.2,1652.8 1752.9,1654.8 1753.5,1650.5 1754.2,1653.6 1754.9,1650.9 1755.5,1649.4 1756.2,1650.7 1756.8,1647.2 1757.5,1647.3 1758.2,1647.5 1758.8,1645.4 1759.5,1640.9 1760.1,1634.8 1760.8,1638.2 1761.5,1632.5 1762.1,1633.5 1762.8,1627.1 1763.4,1629.1 1764.1,1624.1 1764.8,1617.9 1765.4,1617.5 1766.1,1612.5 1766.7,1604.1 1767.4,1606.3 1768.1,1606.8 1768.7,1607.6 1769.4,1603.3 1770,1595.1 1770.7,1601.1 1771.4,1602.3 1772,1599.9 1772.7,1601.5 1773.3,1603.4 1774,1612 1774.7,1617.2 1775.3,1623 1776,1622.3 1776.6,1624.3 1777.3,1623.6 1778,1628 1778.6,1633.4 1779.3,1631.7 1779.9,1639.9 1780.6,1641.2 1781.3,1643.1 1781.9,1644.2 1782.6,1643.2 1783.2,1645.3 1783.9,1645.6 1784.6,1640.8 1785.2,1647.1 1785.9,1645.5 1786.5,1642.7 1787.2,1639.7 1787.9,1637.9 1788.5,1637.7 1789.2,1635.5 1789.8,1632.4 1790.5,1625.8 1791.2,1627.5 1791.8,1628.8 1792.5,1615 1793.1,1615.6 1793.8,1605.9 1794.5,1593.8 1795.1,1594.3 1795.8,1579.8 1796.4,1592.6 1797.1,1577.4 1797.8,1571.8 1798.4,1565 1799.1,1571 1799.7,1563.1 1800.4,1562 1801.1,1561.9 1801.7,1571.7 1802.4,1575.7 1803,1564.9 1803.7,1569.9 1804.4,1576.2 1805,1577.8 1805.7,1581 1806.3,1598.2 1807,1594.2 1807.7,1596.8 1808.3,1604.7 1809,1611.8 1809.6,1616.5 1810.3,1628.6 1811,1629.5 1811.6,1628.7 1812.3,1631.1 1812.9,1637.1 1813.6,1642.2 1814.3,1643.8 1814.9,1643.7 1815.6,1643.1 1816.2,1647.3 1816.9,1651.2 1817.6,1650.2 1818.2,1651.5 1818.9,1648.8 1819.5,1652.7 1820.2,1654.2 1820.9,1654.9 1821.5,1657.2 1822.2,1657.3 1822.8,1656.6 1823.5,1657.4 1824.2,1656 1824.8,1656.4 1825.5,1655.3 1826.1,1654.6 1826.8,1656.8 1827.5,1657.5 1828.1,1660.1 1828.8,1656.9 1829.4,1656.6 1830.1,1658.8 1830.8,1658.4 1831.4,1658.9 1832.1,1656.4 1832.7,1657.1 1833.4,1656.3 1834.1,1659.9 1834.7,1654.5 1835.4,1659.6 1836,1659.9 1836.7,1658.2 1837.4,1659.3 1838,1656 1838.7,1659.2 1839.3,1659.7 1840,1657.3 1840.7,1657 1841.3,1660 1842,1659.5 1842.6,1659.4 1843.3,1659.2 1844,1656.6 1844.6,1657.2 1845.3,1657.6 1845.9,1657.3 1846.6,1659.1 1847.3,1657.9 1847.9,1659.3 1848.6,1660.3 1849.2,1656.9 1849.9,1661.7 1850.6,1659.3 1851.2,1660.1 1851.9,1661.6 1852.5,1659.9 1853.2,1659.3 1853.9,1658.8 1854.5,1660.6 1855.2,1658.4 1855.8,1659.1 1856.5,1658.4 1857.2,1662.2 1857.8,1660.2 1858.5,1660.4 1859.1,1658.8 1859.8,1660.6 1860.5,1660.3 1861.1,1661.2 1861.8,1661.3 1862.4,1660.9 1863.1,1658.4 1863.8,1661.1 1864.4,1663 1865.1,1659.3 1865.7,1660.4 1866.4,1659 1867.1,1659 1867.7,1660.2 1868.4,1660.4 1869,1660.5 1869.7,1659.8 1870.4,1660.9 1871,1659.6 1871.7,1658 1872.3,1660.8 1873,1660.7" fill="none" stroke="#00ff00" stroke-width="3.1" stroke-linejoin="round"/>
<text class="tk" font-size="56.8" text-anchor="end" transform="translate(257.5,1699) scale(0.978,1)">0</text>
<text class="tk" font-size="56.8" text-anchor="end" transform="translate(257.5,1585.2) scale(0.978,1)">500</text>
<text class="tk" font-size="56.8" text-anchor="end" transform="translate(257.5,1471.4) scale(0.978,1)">1000</text>
<text class="tk" font-size="56.8" text-anchor="end" transform="translate(257.5,1357.6) scale(0.978,1)">1500</text>
<text class="tk" font-size="56.8" text-anchor="end" transform="translate(257.5,1243.8) scale(0.978,1)">2000</text>
<text class="tk" font-size="56.8" text-anchor="end" transform="translate(257.5,1130) scale(0.978,1)">2500</text>
<text class="tk" font-size="56.8" text-anchor="end" transform="translate(257.5,1016.2) scale(0.978,1)">3000</text>
<text class="tk" font-size="56.8" text-anchor="middle" transform="translate(289,1764.2) scale(0.978,1)">20</text>
<text class="tk" font-size="56.8" text-anchor="middle" transform="translate(553,1764.2) scale(0.978,1)">30</text>
<text class="tk" font-size="56.8" text-anchor="middle" transform="translate(817,1764.2) scale(0.978,1)">40</text>
<text class="tk" font-size="56.8" text-anchor="middle" transform="translate(1081,1764.2) scale(0.978,1)">50</text>
<text class="tk" font-size="56.8" text-anchor="middle" transform="translate(1345,1764.2) scale(0.978,1)">60</text>
<text class="tk" font-size="56.8" text-anchor="middle" transform="translate(1609,1764.2) scale(0.978,1)">70</text>
<text class="tk" font-size="56.8" text-anchor="middle" transform="translate(1873,1764.2) scale(0.978,1)">80</text>
<text class="ti" font-size="63.8" text-anchor="middle" transform="translate(1081,1854.7) scale(0.9966,1)">2-Theta angle (Degrees)</text>
<text class="ty" font-size="67.9" text-anchor="middle" transform="translate(81.1,1328.4) rotate(-90) scale(0.93,1)">Intensity (cps)</text>
<text class="nm" font-size="52.4" transform="translate(303.2,1063.6) scale(0.978,1)">OJ</text>
<text class="lg" font-size="46.9" text-anchor="end" transform="translate(1837,1045.9) scale(1.026,1)">Titanium alpha - α</text>
<text class="lg" font-size="46.9" text-anchor="end" transform="translate(1795.5,1104) scale(1.026,1)">Calcium titanate -</text>
<text class="lg" font-size="46.9" text-anchor="end" transform="translate(1795.5,1162.4) scale(1.026,1)">Anatase -</text>
<text class="dm" font-size="41.3" transform="translate(1828,1088.7) scale(1,0.975)" x="-15.88" y="10.73">◆</text>
<path d="M-3.8,-18H3.8V3.7L14.4,-6.6V4.2L0,18.2L-14.4,4.2V-6.6L-3.8,3.7Z" transform="translate(1827.5,1147.6)"/>
<text class="al" font-size="49.2" transform="translate(820.8,1057.8) scale(0.977,1)">α</text>
<text class="al" font-size="49.2" transform="translate(773.9,1359.4) scale(0.977,1)">α</text>
<text class="al" font-size="49.2" transform="translate(684.1,1477.7) scale(0.977,1)">α</text>
<text class="al" font-size="49.2" transform="translate(1160.6,1578.9) scale(0.977,1)">α</text>
<text class="al" font-size="49.2" transform="translate(1422.9,1525.3) scale(0.977,1)">α</text>
<text class="al" font-size="49.2" transform="translate(1628.5,1584) scale(0.977,1)">α</text>
<text class="al" font-size="49.2" transform="translate(1717.2,1606.9) scale(0.977,1)">α</text>
<text class="al" font-size="49.2" transform="translate(1769.8,1556.4) scale(0.977,1)">α</text>
<text class="al" font-size="49.2" transform="translate(1805,1531.9) scale(0.977,1)">α</text>
<text class="dm" font-size="41.3" transform="translate(649.4,1593.3) scale(1,0.975)" x="-15.88" y="10.73">◆</text>
<text class="dm" font-size="41.3" transform="translate(1343.8,1603.1) scale(1,0.975)" x="-15.88" y="10.73">◆</text>
<path d="M-3.8,-18H3.8V3.7L14.4,-6.6V4.2L0,18.2L-14.4,4.2V-6.6L-3.8,3.7Z" transform="translate(434,1575.7)"/>
</g>
<g>
<path d="M262.9,2639.5 H288.7 M273.7,2616.8 H288.7 M273.7,2594.1 H288.7 M273.7,2571.4 H288.7 M273.7,2548.7 H288.7 M262.9,2525.9 H288.7 M273.7,2503.2 H288.7 M273.7,2480.5 H288.7 M273.7,2457.8 H288.7 M273.7,2435.1 H288.7 M262.9,2412.4 H288.7 M273.7,2389.7 H288.7 M273.7,2367 H288.7 M273.7,2344.3 H288.7 M273.7,2321.6 H288.7 M262.9,2298.8 H288.7 M273.7,2276.1 H288.7 M273.7,2253.4 H288.7 M273.7,2230.7 H288.7 M273.7,2208 H288.7 M262.9,2185.3 H288.7 M273.7,2162.6 H288.7 M273.7,2139.9 H288.7 M273.7,2117.2 H288.7 M273.7,2094.5 H288.7 M262.9,2071.8 H288.7 M273.7,2049 H288.7 M273.7,2026.3 H288.7 M273.7,2003.6 H288.7 M273.7,1980.9 H288.7 M262.9,1958.2 H288.7 M288.7,2639.5 V2665.5 M341.5,2639.5 V2654.7 M394.3,2639.5 V2654.7 M447,2639.5 V2654.7 M499.8,2639.5 V2654.7 M552.6,2639.5 V2665.5 M605.4,2639.5 V2654.7 M658.2,2639.5 V2654.7 M710.9,2639.5 V2654.7 M763.7,2639.5 V2654.7 M816.5,2639.5 V2665.5 M869.3,2639.5 V2654.7 M922.1,2639.5 V2654.7 M974.8,2639.5 V2654.7 M1027.6,2639.5 V2654.7 M1080.4,2639.5 V2665.5 M1133.2,2639.5 V2654.7 M1186,2639.5 V2654.7 M1238.7,2639.5 V2654.7 M1291.5,2639.5 V2654.7 M1344.3,2639.5 V2665.5 M1397.1,2639.5 V2654.7 M1449.9,2639.5 V2654.7 M1502.6,2639.5 V2654.7 M1555.4,2639.5 V2654.7 M1608.2,2639.5 V2665.5 M1661,2639.5 V2654.7 M1713.8,2639.5 V2654.7 M1766.5,2639.5 V2654.7 M1819.3,2639.5 V2654.7 M1872.1,2639.5 V2665.5" stroke="#000" stroke-width="8.4" fill="none"/>
<rect x="288.7" y="1958.2" width="1583.4" height="681.3" fill="none" stroke="#000" stroke-width="8.4"/>
<path d="M288.6,1954 V2665.5" stroke="#000" stroke-width="9" fill="none"/>
<polyline points="289,2639.5 288.7,2560.3 289.4,2580.1 290,2567.5 290.7,2571.9 291.3,2571.5 292,2570.6 292.7,2578.4 293.3,2570.9 294,2573.7 294.6,2559.1 295.3,2569.3 296,2571.9 296.6,2571.7 297.3,2573.5 297.9,2575.2 298.6,2572.5 299.3,2569 299.9,2572.1 300.6,2567.3 301.2,2572.2 301.9,2571.4 302.6,2565.2 303.2,2569.5 303.9,2574 304.5,2572.7 305.2,2569.9 305.9,2564.2 306.5,2573.4 307.2,2573.4 307.8,2568.4 308.5,2576.3 309.2,2574 309.8,2569.3 310.5,2570.7 311.1,2572.8 311.8,2570.5 312.5,2584 313.1,2569.3 313.8,2577.5 314.4,2580.5 315.1,2572.7 315.7,2571.1 316.4,2575.9 317.1,2578.5 317.7,2574.2 318.4,2574.6 319,2568.9 319.7,2571.6 320.4,2574 321,2570.4 321.7,2575.8 322.3,2578.8 323,2572.9 323.7,2573 324.3,2576.3 325,2578.6 325.6,2574.7 326.3,2585.6 327,2573.1 327.6,2574 328.3,2582.5 328.9,2575.9 329.6,2580.1 330.3,2573.4 330.9,2584.4 331.6,2580.2 332.2,2573.9 332.9,2572.3 333.6,2585.3 334.2,2579 334.9,2575.9 335.5,2579.6 336.2,2571.2 336.9,2582 337.5,2576.2 338.2,2581.7 338.8,2572.4 339.5,2577.9 340.2,2579.4 340.8,2584.6 341.5,2571.7 342.1,2575.4 342.8,2575.5 343.5,2574.1 344.1,2577.3 344.8,2581.1 345.4,2581.8 346.1,2581.9 346.8,2573.8 347.4,2584.6 348.1,2581.4 348.7,2580.5 349.4,2578.5 350.1,2577.3 350.7,2584.3 351.4,2586.2 352,2579.8 352.7,2575.4 353.4,2577.2 354,2579.3 354.7,2581.4 355.3,2579.2 356,2581.3 356.7,2577.5 357.3,2583.5 358,2580.2 358.6,2581.2 359.3,2578.9 360,2580.1 360.6,2571.7 361.3,2575.7 361.9,2575.8 362.6,2588.8 363.3,2582.7 363.9,2583.8 364.6,2579.7 365.2,2590 365.9,2577.6 366.6,2578.1 367.2,2586.7 367.9,2585.6 368.5,2585.1 369.2,2582.1 369.8,2580.1 370.5,2575.1 371.2,2583.3 371.8,2579.9 372.5,2582.2 373.1,2576.6 373.8,2580.3 374.5,2578.2 375.1,2587 375.8,2583.9 376.4,2586.2 377.1,2578.1 377.8,2581.2 378.4,2584.7 379.1,2585.3 379.7,2582 380.4,2586.3 381.1,2587.2 381.7,2582.3 382.4,2575.5 383,2585.1 383.7,2586.2 384.4,2588.5 385,2589.1 385.7,2582.7 386.3,2581.7 387,2584.7 387.7,2583.7 388.3,2584.5 389,2584.5 389.6,2590.4 390.3,2586.7 391,2584.9 391.6,2588 392.3,2587.1 392.9,2588.3 393.6,2586.7 394.3,2582.7 394.9,2587.1 395.6,2586.4 396.2,2583.1 396.9,2583.8 397.6,2580.3 398.2,2593.3 398.9,2583.3 399.5,2588 400.2,2586 400.9,2583.7 401.5,2582.9 402.2,2583.2 402.8,2586.2 403.5,2581.4 404.2,2587.9 404.8,2587.5 405.5,2584.4 406.1,2589 406.8,2580 407.5,2583.9 408.1,2580.1 408.8,2587.6 409.4,2588.8 410.1,2587.1 410.8,2585.3 411.4,2589.7 412.1,2586.6 412.7,2588 413.4,2582.7 414.1,2590.3 414.7,2584.7 415.4,2590.3 416,2591.5 416.7,2590.7 417.4,2592.3 418,2588 418.7,2585.2 419.3,2588.1 420,2586.6 420.6,2583.4 421.3,2587.8 422,2588.1 422.6,2589.7 423.3,2594 423.9,2586.3 424.6,2594.4 425.3,2586.5 425.9,2588.7 426.6,2584.9 427.2,2588.8 427.9,2591.3 428.6,2587.5 429.2,2590.6 429.9,2589.5 430.5,2588.9 431.2,2589.7 431.9,2590 432.5,2592.3 433.2,2590.4 433.8,2596.8 434.5,2590.6 435.2,2594.1 435.8,2586.8 436.5,2586.5 437.1,2596.8 437.8,2590.3 438.5,2591.2 439.1,2594.2 439.8,2589.3 440.4,2592.5 441.1,2596.7 441.8,2592.1 442.4,2591.8 443.1,2591 443.7,2595.3 444.4,2589.6 445.1,2589.3 445.7,2595.2 446.4,2593.8 447,2592.1 447.7,2593.6 448.4,2586.6 449,2591.4 449.7,2595.2 450.3,2594.6 451,2592.4 451.7,2585.3 452.3,2592.9 453,2592.1 453.6,2590.9 454.3,2592.7 455,2585.7 455.6,2594.3 456.3,2590.5 456.9,2592.4 457.6,2591 458.3,2596.6 458.9,2587.7 459.6,2593.5 460.2,2593.1 460.9,2596.1 461.6,2595.5 462.2,2591.7 462.9,2590.5 463.5,2591.3 464.2,2590 464.9,2591.5 465.5,2593.6 466.2,2591.3 466.8,2592.1 467.5,2594.2 468.2,2591.8 468.8,2590.2 469.5,2593.4 470.1,2595.2 470.8,2592.1 471.5,2588.7 472.1,2595 472.8,2594.7 473.4,2594.9 474.1,2591 474.7,2600 475.4,2593.6 476.1,2591.3 476.7,2597.2 477.4,2590.5 478,2593.4 478.7,2596.6 479.4,2594.5 480,2599.6 480.7,2596.8 481.3,2589.9 482,2597.9 482.7,2590 483.3,2595.7 484,2592.6 484.6,2595.4 485.3,2602.1 486,2597.3 486.6,2595.2 487.3,2599.1 487.9,2599.7 488.6,2594.9 489.3,2597.8 489.9,2600.9 490.6,2598 491.2,2593.7 491.9,2597.6 492.6,2593.6 493.2,2592 493.9,2596.3 494.5,2599.7 495.2,2600.2 495.9,2596.6 496.5,2594.1 497.2,2595.9 497.8,2595.2 498.5,2598 499.2,2596 499.8,2598.2 500.5,2597.9 501.1,2600.6 501.8,2601.5 502.5,2598.5 503.1,2600.3 503.8,2599.9 504.4,2595.4 505.1,2597.7 505.8,2590.2 506.4,2594.9 507.1,2599.3 507.7,2595.4 508.4,2596.6 509.1,2599.6 509.7,2594.7 510.4,2599.9 511,2605 511.7,2595.7 512.4,2599.7 513,2593.9 513.7,2599.9 514.3,2601.4 515,2593.9 515.7,2601.2 516.3,2597.7 517,2594.4 517.6,2598.1 518.3,2598.7 519,2598.2 519.6,2596.3 520.3,2600.8 520.9,2597 521.6,2597.1 522.3,2592.4 522.9,2599.7 523.6,2601.3 524.2,2596.9 524.9,2600 525.6,2598.2 526.2,2598.7 526.9,2596 527.5,2600.9 528.2,2599.5 528.8,2606.1 529.5,2601.7 530.2,2595.3 530.8,2601.2 531.5,2601.4 532.1,2602.8 532.8,2598 533.5,2599.2 534.1,2602.8 534.8,2598 535.4,2599.1 536.1,2597.8 536.8,2601.6 537.4,2595.3 538.1,2598.9 538.7,2600.3 539.4,2601.4 540.1,2600.8 540.7,2597.9 541.4,2600.9 542,2597.4 542.7,2598.8 543.4,2596.8 544,2598.3 544.7,2600.6 545.3,2605.5 546,2599.8 546.7,2598.5 547.3,2600.2 548,2599.2 548.6,2602 549.3,2601.8 550,2603.3 550.6,2597.3 551.3,2600.5 551.9,2602.2 552.6,2604.5 553.3,2601.5 553.9,2597.4 554.6,2600 555.2,2603.1 555.9,2597.6 556.6,2597.6 557.2,2598.8 557.9,2599.4 558.5,2598.5 559.2,2600.1 559.9,2599.5 560.5,2603.5 561.2,2597.8 561.8,2601.1 562.5,2596.5 563.2,2606.9 563.8,2600 564.5,2599.3 565.1,2602.7 565.8,2600.8 566.5,2600.1 567.1,2600.5 567.8,2603.4 568.4,2602.4 569.1,2599.5 569.8,2598.9 570.4,2602 571.1,2602 571.7,2601.8 572.4,2599.7 573.1,2605 573.7,2605.7 574.4,2602.1 575,2605.3 575.7,2604 576.4,2602.4 577,2601.4 577.7,2605.3 578.3,2600.7 579,2607.1 579.6,2601.4 580.3,2606.7 581,2606 581.6,2601.3 582.3,2603.9 582.9,2604.9 583.6,2604.1 584.3,2601.9 584.9,2603.2 585.6,2603.2 586.2,2600.6 586.9,2605 587.6,2604.4 588.2,2604.6 588.9,2600.4 589.5,2600.9 590.2,2600.2 590.9,2603.5 591.5,2603.9 592.2,2601.4 592.8,2604.5 593.5,2601.6 594.2,2601.8 594.8,2605.4 595.5,2603.9 596.1,2604 596.8,2599.5 597.5,2597.5 598.1,2604.1 598.8,2603.8 599.4,2609.4 600.1,2603.4 600.8,2604 601.4,2606.6 602.1,2602.1 602.7,2607.8 603.4,2604.6 604.1,2603.8 604.7,2607.2 605.4,2602.1 606,2601.7 606.7,2607.6 607.4,2607.7 608,2602.9 608.7,2604.4 609.3,2607.3 610,2605.1 610.7,2604.7 611.3,2604.8 612,2602.5 612.6,2603.6 613.3,2600.3 614,2601.3 614.6,2603 615.3,2602.1 615.9,2601.5 616.6,2603 617.3,2607.6 617.9,2602.7 618.6,2604.6 619.2,2601 619.9,2604.6 620.6,2603.6 621.2,2604.1 621.9,2600.9 622.5,2604.5 623.2,2605.6 623.9,2604.2 624.5,2606 625.2,2604.6 625.8,2605 626.5,2604.4 627.2,2600.5 627.8,2606 628.5,2605 629.1,2605.5 629.8,2603.5 630.5,2607.8 631.1,2606.7 631.8,2605.1 632.4,2603.8 633.1,2605.1 633.7,2606.2 634.4,2607 635.1,2603.7 635.7,2601.5 636.4,2604.1 637,2604.3 637.7,2603.6 638.4,2606.8 639,2605.1 639.7,2604.7 640.3,2603 641,2603.5 641.7,2605.9 642.3,2599.5 643,2597.4 643.6,2601.6 644.3,2599.1 645,2598.5 645.6,2596.2 646.3,2601.7 646.9,2592.3 647.6,2597.7 648.3,2592.6 648.9,2596 649.6,2597.8 650.2,2597.7 650.9,2595.6 651.6,2601.2 652.2,2600.7 652.9,2601.8 653.5,2605.7 654.2,2598.7 654.9,2601.2 655.5,2603.1 656.2,2600.6 656.8,2606.1 657.5,2604.2 658.2,2600.1 658.8,2602 659.5,2609.8 660.1,2610.7 660.8,2607 661.5,2602 662.1,2605.6 662.8,2604.9 663.4,2602.9 664.1,2606.4 664.8,2603.6 665.4,2602.1 666.1,2602.8 666.7,2602.8 667.4,2605 668.1,2602.1 668.7,2604.1 669.4,2599.6 670,2596.1 670.7,2604 671.4,2607.3 672,2602.4 672.7,2599.8 673.3,2597.4 674,2596.5 674.7,2600.7 675.3,2599.8 676,2592.8 676.6,2598.2 677.3,2589.9 678,2591.6 678.6,2585.5 679.3,2581.8 679.9,2576.5 680.6,2569.9 681.3,2569.7 681.9,2554 682.6,2543.5 683.2,2527.7 683.9,2506.1 684.5,2499.9 685.2,2488.8 685.9,2479.3 686.5,2473.8 687.2,2471.7 687.8,2494.8 688.5,2496.8 689.2,2518.7 689.8,2536.9 690.5,2555.9 691.1,2558.8 691.8,2566 692.5,2583.2 693.1,2577.6 693.8,2580.7 694.4,2588.7 695.1,2590.9 695.8,2587.4 696.4,2592.7 697.1,2600 697.7,2598.7 698.4,2600.1 699.1,2600.9 699.7,2607.3 700.4,2599.9 701,2603.9 701.7,2602.4 702.4,2603.6 703,2601.5 703.7,2604.7 704.3,2606.2 705,2603.3 705.7,2601.4 706.3,2605.8 707,2602 707.6,2604.8 708.3,2606.8 709,2602.1 709.6,2607.7 710.3,2603.6 710.9,2607.2 711.6,2605.1 712.3,2609 712.9,2608.2 713.6,2603.9 714.2,2606 714.9,2606.3 715.6,2607.5 716.2,2605.5 716.9,2609.6 717.5,2609 718.2,2606.8 718.9,2608.2 719.5,2607.8 720.2,2606.3 720.8,2606.2 721.5,2606.2 722.2,2601.5 722.8,2602.7 723.5,2601.7 724.1,2604.2 724.8,2604.8 725.5,2606.5 726.1,2603.1 726.8,2606.8 727.4,2602.2 728.1,2597.9 728.8,2594.9 729.4,2596.1 730.1,2600.7 730.7,2596.8 731.4,2600.4 732.1,2596.3 732.7,2599.3 733.4,2597.3 734,2593.4 734.7,2598.4 735.4,2595.5 736,2601.5 736.7,2603.3 737.3,2599.6 738,2598.9 738.6,2604.7 739.3,2603.2 740,2606.9 740.6,2603.8 741.3,2600.9 741.9,2603 742.6,2603.8 743.3,2605.5 743.9,2600.5 744.6,2598.7 745.2,2598.5 745.9,2598.7 746.6,2602 747.2,2592.8 747.9,2596.9 748.5,2596.2 749.2,2592.6 749.9,2600.1 750.5,2592.8 751.2,2591.9 751.8,2589.1 752.5,2584.8 753.2,2586.5 753.8,2593.1 754.5,2587 755.1,2584.1 755.8,2583.3 756.5,2587.5 757.1,2588 757.8,2579.1 758.4,2579 759.1,2579.6 759.8,2585.2 760.4,2570.9 761.1,2586.8 761.7,2576.8 762.4,2565.1 763.1,2572 763.7,2567.3 764.4,2569.6 765,2552.3 765.7,2558.6 766.4,2541.7 767,2531.5 767.7,2525.7 768.3,2497.6 769,2495.7 769.7,2471 770.3,2444.7 771,2425.9 771.6,2396.6 772.3,2372.6 773,2367.9 773.6,2359.9 774.3,2356.3 774.9,2359 775.6,2359 776.3,2385.4 776.9,2400.4 777.6,2427.2 778.2,2456 778.9,2465.1 779.6,2499.4 780.2,2510.9 780.9,2518.3 781.5,2547.6 782.2,2553.4 782.9,2570 783.5,2572.6 784.2,2582.4 784.8,2582.6 785.5,2586.9 786.2,2587.4 786.8,2585 787.5,2590.8 788.1,2591.1 788.8,2594.2 789.5,2595.6 790.1,2598 790.8,2601.2 791.4,2596.3 792.1,2592.2 792.7,2595.6 793.4,2598.6 794.1,2592.6 794.7,2598.4 795.4,2598.8 796,2600.4 796.7,2599.5 797.4,2597.2 798,2590.4 798.7,2596.3 799.3,2598.2 800,2596.4 800.7,2594.7 801.3,2598.4 802,2592 802.6,2589.2 803.3,2589.2 804,2586.9 804.6,2591.7 805.3,2591.5 805.9,2579.1 806.6,2577.2 807.3,2584.2 807.9,2574 808.6,2570.4 809.2,2562.5 809.9,2556.9 810.6,2551.7 811.2,2536.4 811.9,2522.1 812.5,2505.1 813.2,2495.5 813.9,2474.9 814.5,2428.7 815.2,2398.9 815.8,2338.3 816.5,2285.7 817.2,2239.9 817.8,2196.2 818.5,2142 819.1,2085.1 819.8,2079.3 820.5,2040.6 821.1,2045.5 821.8,2071.1 822.4,2089.5 823.1,2161.8 823.8,2191.1 824.4,2264.2 825.1,2311.9 825.7,2360.9 826.4,2388.9 827.1,2437.9 827.7,2461.5 828.4,2496.4 829,2503.3 829.7,2516.7 830.4,2540.5 831,2544.4 831.7,2558.9 832.3,2558.9 833,2573.3 833.7,2584 834.3,2576.1 835,2584.9 835.6,2590.4 836.3,2591.2 837,2596.1 837.6,2593.1 838.3,2597.3 838.9,2591.1 839.6,2594.7 840.3,2602.3 840.9,2602.7 841.6,2601.1 842.2,2605.4 842.9,2601.4 843.5,2601.9 844.2,2604.4 844.9,2604.4 845.5,2602.4 846.2,2600.7 846.8,2601.1 847.5,2605 848.2,2603.5 848.8,2607.6 849.5,2605.3 850.1,2608.8 850.8,2605.3 851.5,2610 852.1,2609.7 852.8,2607.8 853.4,2606.8 854.1,2611.4 854.8,2609.7 855.4,2608.5 856.1,2608.5 856.7,2610.9 857.4,2609.2 858.1,2610.1 858.7,2606.8 859.4,2608.7 860,2612.8 860.7,2614.7 861.4,2610.1 862,2608.1 862.7,2610.3 863.3,2608.9 864,2611.8 864.7,2613.7 865.3,2609.6 866,2611 866.6,2609.9 867.3,2614.2 868,2611.2 868.6,2612.8 869.3,2610.1 869.9,2612.9 870.6,2613.1 871.3,2613.1 871.9,2609.6 872.6,2612.1 873.2,2613.7 873.9,2614.2 874.6,2614.4 875.2,2609.6 875.9,2616 876.5,2614.2 877.2,2611.4 877.9,2610.4 878.5,2613 879.2,2611.3 879.8,2611.4 880.5,2611 881.2,2612.9 881.8,2609.9 882.5,2612.7 883.1,2610.2 883.8,2615.2 884.5,2611.4 885.1,2615.6 885.8,2616.1 886.4,2612.4 887.1,2614.9 887.8,2612.6 888.4,2615.4 889.1,2610.5 889.7,2613.5 890.4,2615.7 891.1,2613.3 891.7,2612 892.4,2615.1 893,2612.8 893.7,2610 894.4,2612.2 895,2613.8 895.7,2614.9 896.3,2612.8 897,2616.7 897.6,2618.8 898.3,2615.2 899,2616 899.6,2610.9 900.3,2613.8 900.9,2615.9 901.6,2616.2 902.3,2613.3 902.9,2615.7 903.6,2615.3 904.2,2614.4 904.9,2614.1 905.6,2614.1 906.2,2614.1 906.9,2612 907.5,2611.3 908.2,2617.4 908.9,2609.9 909.5,2614.2 910.2,2612.2 910.8,2615.8 911.5,2613.9 912.2,2614.2 912.8,2614.4 913.5,2613.1 914.1,2613.5 914.8,2616.4 915.5,2614.9 916.1,2613.4 916.8,2613.5 917.4,2615.3 918.1,2615.3 918.8,2615.1 919.4,2616.8 920.1,2617.1 920.7,2612.1 921.4,2615.6 922.1,2614.7 922.7,2616.2 923.4,2612.6 924,2611.9 924.7,2615.4 925.4,2614.1 926,2616.3 926.7,2611.9 927.3,2613.4 928,2616.6 928.7,2612.9 929.3,2614.5 930,2614.4 930.6,2614.5 931.3,2616.3 932,2616.1 932.6,2614.1 933.3,2615.3 933.9,2616.9 934.6,2611.7 935.3,2615.7 935.9,2616.3 936.6,2616.5 937.2,2614.1 937.9,2613.7 938.6,2615 939.2,2613.9 939.9,2618 940.5,2616.1 941.2,2616.3 941.9,2615.5 942.5,2614.6 943.2,2619 943.8,2611.1 944.5,2617 945.2,2615 945.8,2614.2 946.5,2614.1 947.1,2615.2 947.8,2620.2 948.4,2617.5 949.1,2614.4 949.8,2617.3 950.4,2617.5 951.1,2619.8 951.7,2613.7 952.4,2614.9 953.1,2617.3 953.7,2616 954.4,2616 955,2617.8 955.7,2616.3 956.4,2615.4 957,2615 957.7,2613.8 958.3,2615.9 959,2616.7 959.7,2615.3 960.3,2617.1 961,2618.1 961.6,2614.1 962.3,2616.7 963,2615.8 963.6,2615 964.3,2618 964.9,2615 965.6,2615.3 966.3,2616.3 966.9,2615.5 967.6,2617.4 968.2,2619.9 968.9,2616.7 969.6,2617.7 970.2,2614.7 970.9,2615.8 971.5,2617.1 972.2,2616.2 972.9,2614 973.5,2614.3 974.2,2615.7 974.8,2615.6 975.5,2616.8 976.2,2616.5 976.8,2615.3 977.5,2616.5 978.1,2615.9 978.8,2618.2 979.5,2619.2 980.1,2619.3 980.8,2617.1 981.4,2614.2 982.1,2614.4 982.8,2618.1 983.4,2619.1 984.1,2615.1 984.7,2615.7 985.4,2618.8 986.1,2614.7 986.7,2616.2 987.4,2614.3 988,2616 988.7,2615.1 989.4,2616 990,2618.2 990.7,2617 991.3,2617.7 992,2615.2 992.7,2618.3 993.3,2619.2 994,2615.5 994.6,2614.7 995.3,2614.3 996,2614.9 996.6,2619.2 997.3,2617.9 997.9,2617.6 998.6,2616.8 999.3,2620.3 999.9,2616.8 1000.6,2616.3 1001.2,2618.3 1001.9,2616.6 1002.5,2614.8 1003.2,2616.7 1003.9,2615.1 1004.5,2615.1 1005.2,2616.1 1005.8,2616.2 1006.5,2617.5 1007.2,2614.8 1007.8,2617.6 1008.5,2618 1009.1,2615.7 1009.8,2618.1 1010.5,2616.2 1011.1,2615.2 1011.8,2616.8 1012.4,2616.8 1013.1,2615.4 1013.8,2615.7 1014.4,2619.5 1015.1,2619.1 1015.7,2614.8 1016.4,2616.3 1017.1,2620.4 1017.7,2619.2 1018.4,2617 1019,2618.6 1019.7,2616.3 1020.4,2616.9 1021,2616.2 1021.7,2619 1022.3,2616.1 1023,2613.9 1023.7,2618.4 1024.3,2614.9 1025,2615.5 1025.6,2616.1 1026.3,2617.2 1027,2619 1027.6,2618.6 1028.3,2615.9 1028.9,2615.6 1029.6,2615.2 1030.3,2615.6 1030.9,2615.7 1031.6,2617.9 1032.2,2619.2 1032.9,2616.9 1033.6,2616.4 1034.2,2617.1 1034.9,2619.7 1035.5,2618.1 1036.2,2619.7 1036.9,2617 1037.5,2619 1038.2,2617.5 1038.8,2616.8 1039.5,2617.1 1040.2,2615.1 1040.8,2619.1 1041.5,2620.9 1042.1,2615.8 1042.8,2615 1043.5,2615 1044.1,2616.9 1044.8,2616.5 1045.4,2617.2 1046.1,2619.5 1046.8,2618.3 1047.4,2616.6 1048.1,2618.3 1048.7,2614.3 1049.4,2619.9 1050.1,2618.1 1050.7,2615.6 1051.4,2618.4 1052,2619.3 1052.7,2619.6 1053.4,2618.6 1054,2615 1054.7,2616.8 1055.3,2616.6 1056,2618.3 1056.6,2616.1 1057.3,2617.3 1058,2619 1058.6,2618.2 1059.3,2617.2 1059.9,2615.6 1060.6,2617.6 1061.3,2616.7 1061.9,2614.3 1062.6,2618.8 1063.2,2619.5 1063.9,2616 1064.6,2616.8 1065.2,2617.7 1065.9,2617.1 1066.5,2618.1 1067.2,2616.7 1067.9,2618.1 1068.5,2616.3 1069.2,2619.5 1069.8,2618.9 1070.5,2617.4 1071.2,2618.4 1071.8,2616.5 1072.5,2617.7 1073.1,2618.5 1073.8,2617.3 1074.5,2618.5 1075.1,2620.1 1075.8,2619.5 1076.4,2618.9 1077.1,2618.4 1077.8,2617.5 1078.4,2616.2 1079.1,2616.8 1079.7,2614.8 1080.4,2615.6 1081.1,2618 1081.7,2615 1082.4,2615.8 1083,2618.4 1083.7,2617.2 1084.4,2615.9 1085,2617.3 1085.7,2616.1 1086.3,2617.1 1087,2616.6 1087.7,2618.2 1088.3,2617.1 1089,2618.3 1089.6,2616.6 1090.3,2620.4 1091,2617.2 1091.6,2615.7 1092.3,2616.8 1092.9,2617.8 1093.6,2616.9 1094.3,2619.1 1094.9,2619.1 1095.6,2618.3 1096.2,2618 1096.9,2616.2 1097.6,2619.2 1098.2,2616.2 1098.9,2620.3 1099.5,2619 1100.2,2617.8 1100.9,2615.9 1101.5,2618.7 1102.2,2621.2 1102.8,2617.1 1103.5,2617.8 1104.2,2619.5 1104.8,2619.4 1105.5,2618.9 1106.1,2617.6 1106.8,2616.7 1107.4,2620.1 1108.1,2614.1 1108.8,2617.8 1109.4,2618.3 1110.1,2616.7 1110.7,2617.5 1111.4,2614 1112.1,2616 1112.7,2618.3 1113.4,2618.3 1114,2618.5 1114.7,2618.2 1115.4,2616.6 1116,2618.7 1116.7,2615.1 1117.3,2617.8 1118,2617.9 1118.7,2616.1 1119.3,2620.8 1120,2619.1 1120.6,2616.6 1121.3,2617.5 1122,2617.6 1122.6,2616.9 1123.3,2618.5 1123.9,2617.8 1124.6,2619.7 1125.3,2620.5 1125.9,2615.4 1126.6,2618.9 1127.2,2618.5 1127.9,2615 1128.6,2615.6 1129.2,2618.1 1129.9,2618.1 1130.5,2617.3 1131.2,2618.7 1131.9,2616.1 1132.5,2616.7 1133.2,2616.7 1133.8,2615.6 1134.5,2615.6 1135.2,2613.6 1135.8,2614 1136.5,2619.3 1137.1,2614.8 1137.8,2618.1 1138.5,2618.4 1139.1,2614.6 1139.8,2616.8 1140.4,2615.8 1141.1,2613 1141.8,2615.7 1142.4,2615.6 1143.1,2612.8 1143.7,2610.4 1144.4,2610.9 1145.1,2614.1 1145.7,2611.2 1146.4,2609 1147,2602.9 1147.7,2603.6 1148.4,2601.8 1149,2598.8 1149.7,2600.6 1150.3,2596.1 1151,2593.6 1151.7,2595.5 1152.3,2590 1153,2585.4 1153.6,2588.5 1154.3,2579.4 1155,2577.2 1155.6,2574.1 1156.3,2579.5 1156.9,2574.9 1157.6,2568.9 1158.3,2571.5 1158.9,2578.3 1159.6,2575.3 1160.2,2572.3 1160.9,2579.9 1161.5,2580.5 1162.2,2575.3 1162.9,2587 1163.5,2589.8 1164.2,2595.2 1164.8,2596.6 1165.5,2593 1166.2,2599.8 1166.8,2604.6 1167.5,2605.9 1168.1,2605.4 1168.8,2605.4 1169.5,2610.2 1170.1,2608.4 1170.8,2612 1171.4,2611.3 1172.1,2611.8 1172.8,2612.4 1173.4,2614.9 1174.1,2615 1174.7,2614.2 1175.4,2617.7 1176.1,2615.5 1176.7,2615.2 1177.4,2614.5 1178,2616.6 1178.7,2617 1179.4,2616.6 1180,2618.2 1180.7,2617.4 1181.3,2616.5 1182,2616.8 1182.7,2619 1183.3,2618 1184,2620.9 1184.6,2616.3 1185.3,2618.5 1186,2617.3 1186.6,2619.5 1187.3,2617.9 1187.9,2617.1 1188.6,2616.3 1189.3,2620.1 1189.9,2616.7 1190.6,2618.3 1191.2,2619.3 1191.9,2617.4 1192.6,2618.6 1193.2,2618.6 1193.9,2619.3 1194.5,2617.9 1195.2,2618.2 1195.9,2618.6 1196.5,2619.8 1197.2,2619.1 1197.8,2617.7 1198.5,2616.4 1199.2,2618.5 1199.8,2616.2 1200.5,2618.5 1201.1,2620.2 1201.8,2617.5 1202.5,2620 1203.1,2617.9 1203.8,2616.9 1204.4,2619 1205.1,2618.7 1205.8,2614.8 1206.4,2618.2 1207.1,2618.2 1207.7,2617.4 1208.4,2618.8 1209.1,2618.8 1209.7,2618.1 1210.4,2622.4 1211,2616.5 1211.7,2620.4 1212.3,2620.4 1213,2617.9 1213.7,2618.7 1214.3,2620.7 1215,2618.4 1215.6,2620.5 1216.3,2619.9 1217,2621.1 1217.6,2620.1 1218.3,2618.2 1218.9,2618.6 1219.6,2618.4 1220.3,2617.4 1220.9,2618.9 1221.6,2619.9 1222.2,2619.3 1222.9,2616.4 1223.6,2618.8 1224.2,2618.4 1224.9,2619 1225.5,2618.5 1226.2,2618.3 1226.9,2618.9 1227.5,2619.2 1228.2,2620.1 1228.8,2620.2 1229.5,2618.3 1230.2,2617.8 1230.8,2617.6 1231.5,2618.9 1232.1,2620.2 1232.8,2618 1233.5,2618.1 1234.1,2621.3 1234.8,2617.8 1235.4,2618.1 1236.1,2616.5 1236.8,2620.7 1237.4,2621 1238.1,2617.8 1238.7,2621.8 1239.4,2620.2 1240.1,2620.7 1240.7,2620.6 1241.4,2622 1242,2619.4 1242.7,2617.6 1243.4,2618.4 1244,2618.4 1244.7,2619.6 1245.3,2616.9 1246,2618.3 1246.7,2617.5 1247.3,2621.4 1248,2618.6 1248.6,2620.8 1249.3,2618.6 1250,2618.8 1250.6,2620.8 1251.3,2618.9 1251.9,2617.4 1252.6,2618.4 1253.3,2618.2 1253.9,2620.4 1254.6,2620.2 1255.2,2620.8 1255.9,2618.9 1256.6,2617.4 1257.2,2618.5 1257.9,2619.2 1258.5,2620.8 1259.2,2618.5 1259.9,2619.5 1260.5,2622 1261.2,2621.8 1261.8,2619.7 1262.5,2620.5 1263.2,2616.7 1263.8,2619.1 1264.5,2620.8 1265.1,2619.9 1265.8,2616.8 1266.4,2620.6 1267.1,2618 1267.8,2618.5 1268.4,2617 1269.1,2618.4 1269.7,2619.8 1270.4,2618.4 1271.1,2619.1 1271.7,2617.8 1272.4,2619.3 1273,2616.3 1273.7,2619.4 1274.4,2618.6 1275,2620.2 1275.7,2619 1276.3,2619.2 1277,2619 1277.7,2617.9 1278.3,2620 1279,2620.5 1279.6,2617.6 1280.3,2619.7 1281,2620.3 1281.6,2617.5 1282.3,2618.1 1282.9,2623.2 1283.6,2619.8 1284.3,2618.1 1284.9,2618 1285.6,2620 1286.2,2616.9 1286.9,2620.4 1287.6,2619.6 1288.2,2619.1 1288.9,2619.3 1289.5,2618.1 1290.2,2617.7 1290.9,2619.3 1291.5,2617.2 1292.2,2620.3 1292.8,2619.6 1293.5,2616.7 1294.2,2619.1 1294.8,2617.7 1295.5,2619.9 1296.1,2619.7 1296.8,2619.4 1297.5,2619 1298.1,2619.8 1298.8,2619.2 1299.4,2618.3 1300.1,2617.5 1300.8,2619.1 1301.4,2618.3 1302.1,2617.9 1302.7,2620.9 1303.4,2621.6 1304.1,2616.8 1304.7,2617.3 1305.4,2619.2 1306,2618.7 1306.7,2620.7 1307.4,2621.3 1308,2618.8 1308.7,2621.5 1309.3,2617.9 1310,2620.3 1310.7,2618.8 1311.3,2616.3 1312,2616.4 1312.6,2619.6 1313.3,2617.6 1314,2620.8 1314.6,2620.1 1315.3,2618.7 1315.9,2617.1 1316.6,2620.1 1317.3,2618.4 1317.9,2619 1318.6,2621.1 1319.2,2619.4 1319.9,2616.9 1320.5,2619.3 1321.2,2618.4 1321.9,2617.9 1322.5,2620.2 1323.2,2617.2 1323.8,2616.8 1324.5,2616.6 1325.2,2617.1 1325.8,2619.7 1326.5,2619.9 1327.1,2620.1 1327.8,2620.3 1328.5,2620.1 1329.1,2617.3 1329.8,2616.5 1330.4,2619.6 1331.1,2617.3 1331.8,2620.4 1332.4,2618.8 1333.1,2619.7 1333.7,2620.5 1334.4,2617.7 1335.1,2617.4 1335.7,2617.9 1336.4,2617.8 1337,2618.2 1337.7,2616.4 1338.4,2616.9 1339,2615 1339.7,2617.1 1340.3,2614.2 1341,2613.2 1341.7,2611.5 1342.3,2611.5 1343,2612.9 1343.6,2614.4 1344.3,2616.5 1345,2613.1 1345.6,2610.6 1346.3,2610.4 1346.9,2618.5 1347.6,2615.5 1348.3,2615.2 1348.9,2616.8 1349.6,2615.1 1350.2,2615.7 1350.9,2617.1 1351.6,2616.6 1352.2,2619.5 1352.9,2618.8 1353.5,2618.9 1354.2,2616.2 1354.9,2620.5 1355.5,2618.4 1356.2,2617 1356.8,2618.4 1357.5,2617.2 1358.2,2619.6 1358.8,2618 1359.5,2617.3 1360.1,2615.3 1360.8,2617.7 1361.5,2616.6 1362.1,2618.8 1362.8,2618.7 1363.4,2616.5 1364.1,2618 1364.8,2616.7 1365.4,2617.8 1366.1,2615.7 1366.7,2615.3 1367.4,2620.2 1368.1,2616.1 1368.7,2618.2 1369.4,2618.2 1370,2619.1 1370.7,2617.8 1371.3,2620.6 1372,2620 1372.7,2620 1373.3,2618.4 1374,2617.4 1374.6,2617.7 1375.3,2618.2 1376,2619.7 1376.6,2621.5 1377.3,2618.1 1377.9,2618.5 1378.6,2618.1 1379.3,2616.5 1379.9,2618.9 1380.6,2618.9 1381.2,2622.2 1381.9,2617.7 1382.6,2618.6 1383.2,2619.6 1383.9,2617.8 1384.5,2620 1385.2,2619.2 1385.9,2615.2 1386.5,2617.1 1387.2,2616.8 1387.8,2617 1388.5,2617.1 1389.2,2617.7 1389.8,2614.3 1390.5,2618 1391.1,2616.6 1391.8,2618.1 1392.5,2618.2 1393.1,2621.5 1393.8,2620.6 1394.4,2614.8 1395.1,2614.8 1395.8,2617.8 1396.4,2617 1397.1,2615.8 1397.7,2618.3 1398.4,2613.5 1399.1,2618 1399.7,2617.3 1400.4,2620.3 1401,2612.8 1401.7,2615 1402.4,2611.8 1403,2616 1403.7,2613 1404.3,2612.8 1405,2611.7 1405.7,2606.9 1406.3,2605.2 1407,2605.5 1407.6,2607.7 1408.3,2602.7 1409,2599.2 1409.6,2598.4 1410.3,2595.3 1410.9,2592.1 1411.6,2592.6 1412.3,2584.7 1412.9,2575.1 1413.6,2580 1414.2,2570.6 1414.9,2561.8 1415.6,2566.5 1416.2,2555.2 1416.9,2558.1 1417.5,2547.4 1418.2,2547.6 1418.9,2540.9 1419.5,2535.7 1420.2,2532.6 1420.8,2531.6 1421.5,2545.3 1422.2,2523.5 1422.8,2537.4 1423.5,2545.9 1424.1,2547.6 1424.8,2547.6 1425.4,2559.6 1426.1,2562.1 1426.8,2567.7 1427.4,2568.8 1428.1,2579.1 1428.7,2579.4 1429.4,2584.5 1430.1,2590.3 1430.7,2589.9 1431.4,2597 1432,2603.1 1432.7,2601.9 1433.4,2604.7 1434,2607 1434.7,2608.1 1435.3,2605.1 1436,2610.7 1436.7,2611.3 1437.3,2613.5 1438,2611.3 1438.6,2614.4 1439.3,2616.3 1440,2617.4 1440.6,2614.7 1441.3,2614.7 1441.9,2618.9 1442.6,2617.7 1443.3,2615.6 1443.9,2615.2 1444.6,2619.2 1445.2,2617.8 1445.9,2616 1446.6,2618.3 1447.2,2618.3 1447.9,2618.6 1448.5,2619.9 1449.2,2617.8 1449.9,2617.5 1450.5,2620.3 1451.2,2618 1451.8,2616.5 1452.5,2618 1453.2,2616.9 1453.8,2619.3 1454.5,2616.4 1455.1,2619.8 1455.8,2615.7 1456.5,2619.3 1457.1,2619.8 1457.8,2620.1 1458.4,2619.4 1459.1,2619.6 1459.8,2619.9 1460.4,2619.4 1461.1,2617.9 1461.7,2617.6 1462.4,2619.5 1463.1,2617.2 1463.7,2620.6 1464.4,2620.7 1465,2620.9 1465.7,2618.3 1466.4,2621.5 1467,2621.3 1467.7,2617.3 1468.3,2616.7 1469,2617.3 1469.7,2621.6 1470.3,2619.3 1471,2618.1 1471.6,2619.2 1472.3,2621.8 1473,2619.9 1473.6,2622 1474.3,2621.3 1474.9,2616.2 1475.6,2618.5 1476.2,2621.7 1476.9,2621.7 1477.6,2618.8 1478.2,2620.4 1478.9,2618.7 1479.5,2620.5 1480.2,2619.9 1480.9,2619.2 1481.5,2621.1 1482.2,2622.5 1482.8,2621.4 1483.5,2620.7 1484.2,2619.9 1484.8,2619.7 1485.5,2619.8 1486.1,2618.9 1486.8,2621 1487.5,2617.6 1488.1,2616.7 1488.8,2619.2 1489.4,2619.4 1490.1,2617.9 1490.8,2618.8 1491.4,2619.5 1492.1,2620 1492.7,2620.8 1493.4,2621.5 1494.1,2618.8 1494.7,2618 1495.4,2621.3 1496,2619.9 1496.7,2619.5 1497.4,2620.4 1498,2620.9 1498.7,2620.4 1499.3,2622.7 1500,2619.9 1500.7,2620.3 1501.3,2616.7 1502,2618.5 1502.6,2620.4 1503.3,2619.9 1504,2617.3 1504.6,2617.5 1505.3,2619.6 1505.9,2620.1 1506.6,2622 1507.3,2620.4 1507.9,2620.1 1508.6,2621 1509.2,2617.3 1509.9,2622.6 1510.6,2620.1 1511.2,2619.3 1511.9,2619.3 1512.5,2617.4 1513.2,2622 1513.9,2621 1514.5,2619.8 1515.2,2619.7 1515.8,2620.5 1516.5,2621 1517.2,2618.3 1517.8,2621.5 1518.5,2620.8 1519.1,2617.8 1519.8,2617.4 1520.5,2618.6 1521.1,2621.2 1521.8,2621.2 1522.4,2621.2 1523.1,2621.6 1523.8,2620.5 1524.4,2618.1 1525.1,2619.6 1525.7,2621 1526.4,2621.1 1527.1,2621.7 1527.7,2618.2 1528.4,2622.9 1529,2619.5 1529.7,2622.1 1530.3,2621.5 1531,2622.1 1531.7,2618.5 1532.3,2620.1 1533,2616.1 1533.6,2621.5 1534.3,2621.6 1535,2619.1 1535.6,2619.1 1536.3,2620.4 1536.9,2622.9 1537.6,2617.8 1538.3,2619.1 1538.9,2619.4 1539.6,2620.8 1540.2,2619 1540.9,2620.8 1541.6,2619.9 1542.2,2620.2 1542.9,2618.1 1543.5,2620.7 1544.2,2620.5 1544.9,2618.3 1545.5,2619.6 1546.2,2620 1546.8,2620.3 1547.5,2618.6 1548.2,2620.9 1548.8,2619.3 1549.5,2617 1550.1,2619.4 1550.8,2621.1 1551.5,2621.7 1552.1,2619.7 1552.8,2621.7 1553.4,2622.3 1554.1,2621.1 1554.8,2621.5 1555.4,2618.6 1556.1,2622.1 1556.7,2617.6 1557.4,2621 1558.1,2619.7 1558.7,2618.9 1559.4,2619.6 1560,2618.8 1560.7,2621.4 1561.4,2623.2 1562,2620.2 1562.7,2622.4 1563.3,2620.7 1564,2618.5 1564.7,2620.2 1565.3,2620.7 1566,2621.5 1566.6,2620.3 1567.3,2620.1 1568,2622.2 1568.6,2619.4 1569.3,2621.4 1569.9,2619.5 1570.6,2620.5 1571.3,2618.3 1571.9,2618.5 1572.6,2619.7 1573.2,2619.9 1573.9,2619.1 1574.6,2617.7 1575.2,2618.1 1575.9,2619.4 1576.5,2619.2 1577.2,2617.3 1577.9,2622 1578.5,2618.8 1579.2,2620.9 1579.8,2617.5 1580.5,2620.2 1581.2,2619.6 1581.8,2621.1 1582.5,2619.4 1583.1,2618.2 1583.8,2616.8 1584.4,2621.2 1585.1,2620 1585.8,2615.3 1586.4,2617.8 1587.1,2619.2 1587.7,2618.3 1588.4,2623 1589.1,2616.6 1589.7,2618.8 1590.4,2621.2 1591,2617.1 1591.7,2619.8 1592.4,2620.4 1593,2617.9 1593.7,2618 1594.3,2619.3 1595,2618.6 1595.7,2620.5 1596.3,2620.6 1597,2616.8 1597.6,2616 1598.3,2617.3 1599,2617.3 1599.6,2618.3 1600.3,2617.7 1600.9,2618.8 1601.6,2614.2 1602.3,2617.7 1602.9,2615.8 1603.6,2616.1 1604.2,2618.1 1604.9,2611.8 1605.6,2615.4 1606.2,2615.5 1606.9,2613.2 1607.5,2614.4 1608.2,2611.8 1608.9,2612.8 1609.5,2608.7 1610.2,2608.6 1610.8,2610.5 1611.5,2603.7 1612.2,2604.2 1612.8,2605.8 1613.5,2600.5 1614.1,2598.5 1614.8,2592.6 1615.5,2598.3 1616.1,2591.3 1616.8,2592.2 1617.4,2587.9 1618.1,2588.7 1618.8,2586.1 1619.4,2582.3 1620.1,2586.6 1620.7,2588.5 1621.4,2579.4 1622.1,2580 1622.7,2577.1 1623.4,2574.4 1624,2577.6 1624.7,2572.3 1625.4,2577.6 1626,2577.8 1626.7,2576.2 1627.3,2578.5 1628,2582.6 1628.7,2583.5 1629.3,2588.4 1630,2589.8 1630.6,2589.4 1631.3,2589.2 1632,2595.1 1632.6,2593.3 1633.3,2592.3 1633.9,2593.8 1634.6,2601.2 1635.2,2600.3 1635.9,2603 1636.6,2604.2 1637.2,2605.5 1637.9,2607.4 1638.5,2608 1639.2,2610.4 1639.9,2612.2 1640.5,2612 1641.2,2612.3 1641.8,2611.7 1642.5,2613.9 1643.2,2613.7 1643.8,2613 1644.5,2617.5 1645.1,2616.7 1645.8,2615.7 1646.5,2616.8 1647.1,2618.7 1647.8,2615.7 1648.4,2617.6 1649.1,2619.2 1649.8,2614.7 1650.4,2619.9 1651.1,2618 1651.7,2619.2 1652.4,2618 1653.1,2617.4 1653.7,2619.6 1654.4,2618.5 1655,2618.6 1655.7,2620 1656.4,2616.7 1657,2618.3 1657.7,2619 1658.3,2619.7 1659,2619.2 1659.7,2618.4 1660.3,2619.4 1661,2616.7 1661.6,2622.5 1662.3,2621.9 1663,2618.9 1663.6,2621.3 1664.3,2618.5 1664.9,2619.3 1665.6,2617.2 1666.3,2617.3 1666.9,2615.7 1667.6,2616.2 1668.2,2615.5 1668.9,2616.5 1669.6,2615.4 1670.2,2616.2 1670.9,2617.9 1671.5,2619 1672.2,2619 1672.9,2616.3 1673.5,2621.1 1674.2,2617.1 1674.8,2618.8 1675.5,2616.6 1676.2,2617.6 1676.8,2619.3 1677.5,2618.2 1678.1,2621.9 1678.8,2618.1 1679.5,2617.9 1680.1,2621.5 1680.8,2617.5 1681.4,2619 1682.1,2618.6 1682.8,2621.1 1683.4,2618 1684.1,2618.1 1684.7,2619 1685.4,2620.4 1686.1,2617.8 1686.7,2617 1687.4,2618.3 1688,2617.3 1688.7,2619.7 1689.3,2618.6 1690,2618.2 1690.7,2618.5 1691.3,2614.8 1692,2618 1692.6,2619.4 1693.3,2617.2 1694,2620.1 1694.6,2617.7 1695.3,2616.9 1695.9,2618.8 1696.6,2618.3 1697.3,2619.1 1697.9,2617.2 1698.6,2618.2 1699.2,2613.9 1699.9,2615.4 1700.6,2616.4 1701.2,2618 1701.9,2611.4 1702.5,2612.1 1703.2,2612.9 1703.9,2612.6 1704.5,2611.8 1705.2,2612.2 1705.8,2606.5 1706.5,2608.8 1707.2,2611.3 1707.8,2608.5 1708.5,2611.8 1709.1,2603.2 1709.8,2601.7 1710.5,2598 1711.1,2595.9 1711.8,2602.3 1712.4,2598.2 1713.1,2595.9 1713.8,2595.9 1714.4,2599.1 1715.1,2595.4 1715.7,2596.3 1716.4,2594.3 1717.1,2598.7 1717.7,2599.9 1718.4,2601.5 1719,2602.1 1719.7,2604.2 1720.4,2604.2 1721,2603.3 1721.7,2604.6 1722.3,2603.9 1723,2605.6 1723.7,2607.7 1724.3,2612.4 1725,2609.8 1725.6,2609.5 1726.3,2615.1 1727,2615.4 1727.6,2615.7 1728.3,2616.4 1728.9,2615.6 1729.6,2617.1 1730.3,2615.2 1730.9,2618.3 1731.6,2616.7 1732.2,2617.5 1732.9,2618.5 1733.6,2615.4 1734.2,2617.1 1734.9,2616.4 1735.5,2617.9 1736.2,2616.3 1736.9,2616.4 1737.5,2617.7 1738.2,2620.3 1738.8,2616.1 1739.5,2616.3 1740.1,2617.1 1740.8,2617 1741.5,2617.1 1742.1,2617 1742.8,2618.9 1743.4,2617.2 1744.1,2616.5 1744.8,2618 1745.4,2618.4 1746.1,2613.6 1746.7,2615.5 1747.4,2616.9 1748.1,2617 1748.7,2620.4 1749.4,2618.1 1750,2615.7 1750.7,2612.5 1751.4,2618 1752,2615 1752.7,2609.4 1753.3,2610.9 1754,2610.4 1754.7,2607.6 1755.3,2609 1756,2607.5 1756.6,2603.7 1757.3,2601.2 1758,2603.7 1758.6,2594.2 1759.3,2600.5 1759.9,2594.5 1760.6,2580.7 1761.3,2587 1761.9,2579.1 1762.6,2581.3 1763.2,2574.7 1763.9,2572.3 1764.6,2567 1765.2,2558.2 1765.9,2549.2 1766.5,2550.1 1767.2,2543.8 1767.9,2552.4 1768.5,2540.7 1769.2,2545 1769.8,2541.1 1770.5,2551.7 1771.2,2552.6 1771.8,2547 1772.5,2554 1773.1,2560 1773.8,2567.3 1774.5,2568.5 1775.1,2570 1775.8,2573.1 1776.4,2581.8 1777.1,2584.6 1777.8,2585.3 1778.4,2593.4 1779.1,2589.8 1779.7,2595.2 1780.4,2597.8 1781.1,2605.7 1781.7,2604.8 1782.4,2604.4 1783,2604 1783.7,2605.6 1784.4,2602 1785,2602.2 1785.7,2602.4 1786.3,2605.9 1787,2595.3 1787.7,2597.9 1788.3,2593 1789,2594.1 1789.6,2588.9 1790.3,2582.9 1791,2580.5 1791.6,2573.4 1792.3,2573.3 1792.9,2559.1 1793.6,2571.6 1794.2,2560.5 1794.9,2547.8 1795.6,2549.3 1796.2,2545.9 1796.9,2549.5 1797.5,2528.8 1798.2,2544.2 1798.9,2528.1 1799.5,2529.1 1800.2,2525.2 1800.8,2523 1801.5,2538 1802.2,2541.6 1802.8,2542.5 1803.5,2554.5 1804.1,2545.5 1804.8,2556.8 1805.5,2559.3 1806.1,2570.3 1806.8,2570.3 1807.4,2577.7 1808.1,2580.2 1808.8,2588.2 1809.4,2585.1 1810.1,2594.2 1810.7,2603 1811.4,2597 1812.1,2602.2 1812.7,2606 1813.4,2600.2 1814,2607.9 1814.7,2612.1 1815.4,2611.9 1816,2611 1816.7,2613.2 1817.3,2611.2 1818,2612.3 1818.7,2616.2 1819.3,2615.2 1820,2614.6 1820.6,2616.8 1821.3,2617.2 1822,2615.2 1822.6,2616.1 1823.3,2619.4 1823.9,2618.2 1824.6,2618.1 1825.3,2617.8 1825.9,2618.9 1826.6,2615.7 1827.2,2619.5 1827.9,2619.8 1828.6,2617.9 1829.2,2621.8 1829.9,2620 1830.5,2617.5 1831.2,2620.6 1831.9,2619.9 1832.5,2617 1833.2,2618.1 1833.8,2618.7 1834.5,2618.5 1835.2,2620 1835.8,2618.5 1836.5,2619.4 1837.1,2615.3 1837.8,2618.3 1838.5,2619.7 1839.1,2619.3 1839.8,2619.2 1840.4,2621.4 1841.1,2620.6 1841.8,2617.1 1842.4,2621.5 1843.1,2620.3 1843.7,2618 1844.4,2617.3 1845.1,2621.1 1845.7,2617.4 1846.4,2620.1 1847,2617.2 1847.7,2618.9 1848.3,2620.1 1849,2618.6 1849.7,2618.9 1850.3,2620.9 1851,2616.6 1851.6,2620.3 1852.3,2618.1 1853,2620.5 1853.6,2622.5 1854.3,2621.5 1854.9,2620 1855.6,2618.9 1856.3,2617.3 1856.9,2619.8 1857.6,2620.4 1858.2,2621.8 1858.9,2620 1859.6,2619.5 1860.2,2623.2 1860.9,2618.1 1861.5,2618.4 1862.2,2616.7 1862.9,2621.4 1863.5,2620 1864.2,2620.1 1864.8,2622 1865.5,2621.3 1866.2,2621.5 1866.8,2619.4 1867.5,2619.5 1868.1,2618.2 1868.8,2620.7 1869.5,2622.2 1870.1,2619.5 1870.8,2619.6 1871.4,2619.2 1872.1,2618.4" fill="none" stroke="#ff0000" stroke-width="2.8" stroke-linejoin="round"/>
<text class="tk" font-size="56.8" text-anchor="end" transform="translate(257.2,2660) scale(0.978,1)">0</text>
<text class="tk" font-size="56.8" text-anchor="end" transform="translate(257.2,2546.4) scale(0.978,1)">500</text>
<text class="tk" font-size="56.8" text-anchor="end" transform="translate(257.2,2432.9) scale(0.978,1)">1000</text>
<text class="tk" font-size="56.8" text-anchor="end" transform="translate(257.2,2319.3) scale(0.978,1)">1500</text>
<text class="tk" font-size="56.8" text-anchor="end" transform="translate(257.2,2205.8) scale(0.978,1)">2000</text>
<text class="tk" font-size="56.8" text-anchor="end" transform="translate(257.2,2092.2) scale(0.978,1)">2500</text>
<text class="tk" font-size="56.8" text-anchor="end" transform="translate(257.2,1978.7) scale(0.978,1)">3000</text>
<text class="tk" font-size="56.8" text-anchor="middle" transform="translate(288.7,2725.2) scale(0.978,1)">20</text>
<text class="tk" font-size="56.8" text-anchor="middle" transform="translate(552.6,2725.2) scale(0.978,1)">30</text>
<text class="tk" font-size="56.8" text-anchor="middle" transform="translate(816.5,2725.2) scale(0.978,1)">40</text>
<text class="tk" font-size="56.8" text-anchor="middle" transform="translate(1080.4,2725.2) scale(0.978,1)">50</text>
<text class="tk" font-size="56.8" text-anchor="middle" transform="translate(1344.3,2725.2) scale(0.978,1)">60</text>
<text class="tk" font-size="56.8" text-anchor="middle" transform="translate(1608.2,2725.2) scale(0.978,1)">70</text>
<text class="tk" font-size="56.8" text-anchor="middle" transform="translate(1872.1,2725.2) scale(0.978,1)">80</text>
<text class="ti" font-size="63.8" text-anchor="middle" transform="translate(1080.4,2815.2) scale(0.9966,1)">2-Theta angle (Degrees)</text>
<text class="ty" font-size="67.9" text-anchor="middle" transform="translate(82.3,2291.3) rotate(-90) scale(0.93,1)">Intensity (cps)</text>
<text class="nm" font-size="52.4" transform="translate(317.7,2028.5) scale(0.978,1)">MJ</text>
<text class="lg" font-size="46.9" text-anchor="end" transform="translate(1837,2014.3) scale(1.026,1)">Titanium alpha - α</text>
<text class="lg" font-size="46.9" text-anchor="end" transform="translate(1795.5,2072.7) scale(1.026,1)">Calcium titanate -</text>
<text class="lg" font-size="46.9" text-anchor="end" transform="translate(1795.5,2131.1) scale(1.026,1)">Anatase -</text>
<text class="dm" font-size="41.3" transform="translate(1828,2057.4) scale(1,0.975)" x="-15.88" y="10.73">◆</text>
<path d="M-3.8,-18H3.8V3.7L14.4,-6.6V4.2L0,18.2L-14.4,4.2V-6.6L-3.8,3.7Z" transform="translate(1827.5,2116.3)"/>
<text class="al" font-size="49.2" transform="translate(821.3,2015.8) scale(0.977,1)">α</text>
<text class="al" font-size="49.2" transform="translate(774.4,2327) scale(0.977,1)">α</text>
<text class="al" font-size="49.2" transform="translate(684.6,2444.4) scale(0.977,1)">α</text>
<text class="al" font-size="49.2" transform="translate(1161.1,2545.5) scale(0.977,1)">α</text>
<text class="al" font-size="49.2" transform="translate(1422.9,2500.6) scale(0.977,1)">α</text>
<text class="al" font-size="49.2" transform="translate(1628.5,2551.1) scale(0.977,1)">α</text>
<text class="al" font-size="49.2" transform="translate(1717.2,2572) scale(0.977,1)">α</text>
<text class="al" font-size="49.2" transform="translate(1769.8,2524.1) scale(0.977,1)">α</text>
<text class="al" font-size="49.2" transform="translate(1805,2498.6) scale(0.977,1)">α</text>
<text class="dm" font-size="41.3" transform="translate(649.9,2560.9) scale(1,0.975)" x="-15.88" y="10.73">◆</text>
<text class="dm" font-size="41.3" transform="translate(1343.8,2565.1) scale(1,0.975)" x="-15.88" y="10.73">◆</text>
<path d="M-3.8,-18H3.8V3.7L14.4,-6.6V4.2L0,18.2L-14.4,4.2V-6.6L-3.8,3.7Z" transform="translate(434.6,2543.2)"/>
</g>
</svg></body></html>
